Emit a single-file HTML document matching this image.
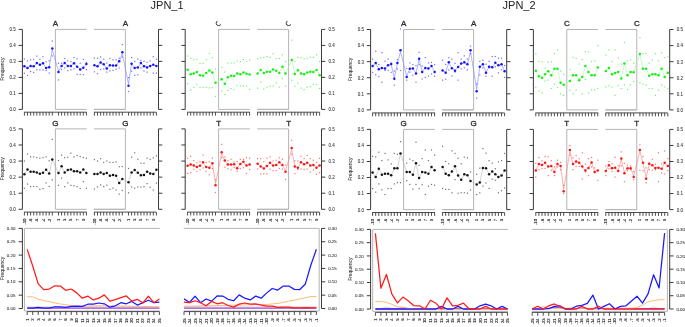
<!DOCTYPE html><html><head><meta charset="utf-8"><style>html,body{margin:0;padding:0;background:#fff;}svg{display:block;will-change:transform;}</style></head><body>
<svg width="685" height="327" viewBox="0 0 685 327" font-family="Liberation Sans, sans-serif">
<defs><clipPath id="clipC"><rect x="0" y="21" width="685" height="20"/></clipPath></defs>
<rect width="685" height="327" fill="#fff"/>
<text x="167.1" y="8.5" text-anchor="middle" font-size="11" fill="#222">JPN_1</text>
<circle cx="184.4" cy="10.2" r="0.45" fill="#777"/>
<text x="519.1" y="9.1" text-anchor="middle" font-size="11" fill="#222">JPN_2</text>
<path d="M55.4 29.4 V109.4 H86.7 M94 29.4 H125.4 V109.4 H94 M55.4 29.4 H86.7 M94 109.4 H125.4" fill="none" stroke="#b4b4b4" stroke-width="1"/>
<path d="M22.4 29.4 V109.4 M18.6 109.4 H22.4 M18.6 93.4 H22.4 M18.6 77.4 H22.4 M18.6 61.4 H22.4 M18.6 45.4 H22.4 M18.6 29.4 H22.4" fill="none" stroke="#3a3a3a" stroke-width="1"/>
<path d="M158.5 29.4 V109.4 M158.5 109.4 H162.3 M158.5 93.4 H162.3 M158.5 77.4 H162.3 M158.5 61.4 H162.3 M158.5 45.4 H162.3 M158.5 29.4 H162.3" fill="none" stroke="#3a3a3a" stroke-width="1"/>
<text x="15.8" y="111.3" text-anchor="end" font-size="4.5" fill="#333" stroke="#333" stroke-width="0.06">0.0</text>
<text x="15.8" y="95.3" text-anchor="end" font-size="4.5" fill="#333" stroke="#333" stroke-width="0.06">0.1</text>
<text x="15.8" y="79.3" text-anchor="end" font-size="4.5" fill="#333" stroke="#333" stroke-width="0.06">0.2</text>
<text x="15.8" y="63.3" text-anchor="end" font-size="4.5" fill="#333" stroke="#333" stroke-width="0.06">0.3</text>
<text x="15.8" y="47.3" text-anchor="end" font-size="4.5" fill="#333" stroke="#333" stroke-width="0.06">0.4</text>
<text x="15.8" y="31.3" text-anchor="end" font-size="4.5" fill="#333" stroke="#333" stroke-width="0.06">0.5</text>
<text transform="translate(4.1 69.1) rotate(-90)" text-anchor="middle" font-size="4.9" fill="#2a2a2a" stroke="#2a2a2a" stroke-width="0.06">Frequency</text>
<path d="M24.1 112.2 H86.8 M24.4 112.2 V115.6 M27.5 112.2 V115.6 M30.6 112.2 V115.6 M33.7 112.2 V115.6 M36.8 112.2 V115.6 M39.9 112.2 V115.6 M43 112.2 V115.6 M46.1 112.2 V115.6 M49.2 112.2 V115.6 M52.3 112.2 V115.6 M58.5 112.2 V115.6 M61.6 112.2 V115.6 M64.7 112.2 V115.6 M67.8 112.2 V115.6 M70.9 112.2 V115.6 M74 112.2 V115.6 M77.1 112.2 V115.6 M80.2 112.2 V115.6 M83.3 112.2 V115.6 M86.4 112.2 V115.6" fill="none" stroke="#3a3a3a" stroke-width="0.9"/>
<path d="M94 112.2 H156.2 M94.4 112.2 V115.6 M97.5 112.2 V115.6 M100.6 112.2 V115.6 M103.7 112.2 V115.6 M106.8 112.2 V115.6 M109.9 112.2 V115.6 M113 112.2 V115.6 M116.1 112.2 V115.6 M119.2 112.2 V115.6 M122.3 112.2 V115.6 M128.5 112.2 V115.6 M131.6 112.2 V115.6 M134.7 112.2 V115.6 M137.8 112.2 V115.6 M140.9 112.2 V115.6 M144 112.2 V115.6 M147.1 112.2 V115.6 M150.2 112.2 V115.6 M153.3 112.2 V115.6 M156.4 112.2 V115.6" fill="none" stroke="#3a3a3a" stroke-width="0.9"/>
<text x="55.4" y="26" text-anchor="middle" font-size="8" fill="#2a2a2a" stroke="#2a2a2a" stroke-width="0.3">A</text>
<text x="125.4" y="26" text-anchor="middle" font-size="8" fill="#2a2a2a" stroke="#2a2a2a" stroke-width="0.3">A</text>
<path d="M24.4 66.27 L27.5 67.74 L30.6 65.83 L33.7 66.27 L36.8 63.18 L39.9 64.8 L43 63.33 L46.1 67.74 L49.2 67.01 L52.3 49.79 L58.5 71.42 L61.6 65.98 L64.7 63.18 L67.8 65.98 L70.9 65.98 L74 63.47 L77.1 66.57 L80.2 69.07 L83.3 67.45 L86.4 64.06" fill="none" stroke="#8080ff" stroke-width="0.6"/>
<rect x="23.8" y="58.4" width="1.2" height="1.2" fill="#6e6eff"/>
<rect x="23.8" y="72.64" width="1.2" height="1.2" fill="#6e6eff"/>
<rect x="26.9" y="60.32" width="1.2" height="1.2" fill="#6e6eff"/>
<rect x="26.9" y="74.88" width="1.2" height="1.2" fill="#6e6eff"/>
<rect x="30" y="59.2" width="1.2" height="1.2" fill="#6e6eff"/>
<rect x="30" y="70.88" width="1.2" height="1.2" fill="#6e6eff"/>
<rect x="33.1" y="58.88" width="1.2" height="1.2" fill="#6e6eff"/>
<rect x="33.1" y="71.84" width="1.2" height="1.2" fill="#6e6eff"/>
<rect x="36.2" y="55.52" width="1.2" height="1.2" fill="#6e6eff"/>
<rect x="36.2" y="69.28" width="1.2" height="1.2" fill="#6e6eff"/>
<rect x="39.3" y="58.56" width="1.2" height="1.2" fill="#6e6eff"/>
<rect x="39.3" y="69.28" width="1.2" height="1.2" fill="#6e6eff"/>
<rect x="42.4" y="56.16" width="1.2" height="1.2" fill="#6e6eff"/>
<rect x="42.4" y="69.28" width="1.2" height="1.2" fill="#6e6eff"/>
<rect x="45.5" y="61.12" width="1.2" height="1.2" fill="#6e6eff"/>
<rect x="45.5" y="69.92" width="1.2" height="1.2" fill="#6e6eff"/>
<rect x="48.6" y="60.11" width="1.2" height="1.2" fill="#6e6eff"/>
<rect x="48.6" y="72.45" width="1.2" height="1.2" fill="#6e6eff"/>
<rect x="51.7" y="40.48" width="1.2" height="1.2" fill="#6e6eff"/>
<rect x="51.7" y="55.35" width="1.2" height="1.2" fill="#6e6eff"/>
<rect x="57.9" y="62.72" width="1.2" height="1.2" fill="#6e6eff"/>
<rect x="57.9" y="79.36" width="1.2" height="1.2" fill="#6e6eff"/>
<rect x="61" y="62.72" width="1.2" height="1.2" fill="#6e6eff"/>
<rect x="61" y="68.96" width="1.2" height="1.2" fill="#6e6eff"/>
<rect x="64.1" y="57.92" width="1.2" height="1.2" fill="#6e6eff"/>
<rect x="64.1" y="67.36" width="1.2" height="1.2" fill="#6e6eff"/>
<rect x="67.2" y="60.16" width="1.2" height="1.2" fill="#6e6eff"/>
<rect x="67.2" y="70.08" width="1.2" height="1.2" fill="#6e6eff"/>
<rect x="70.3" y="60.96" width="1.2" height="1.2" fill="#6e6eff"/>
<rect x="70.3" y="69.28" width="1.2" height="1.2" fill="#6e6eff"/>
<rect x="73.4" y="56.96" width="1.2" height="1.2" fill="#6e6eff"/>
<rect x="73.4" y="68.32" width="1.2" height="1.2" fill="#6e6eff"/>
<rect x="76.5" y="58.24" width="1.2" height="1.2" fill="#6e6eff"/>
<rect x="76.5" y="73.76" width="1.2" height="1.2" fill="#6e6eff"/>
<rect x="79.6" y="62.72" width="1.2" height="1.2" fill="#6e6eff"/>
<rect x="79.6" y="73.76" width="1.2" height="1.2" fill="#6e6eff"/>
<rect x="82.7" y="58.88" width="1.2" height="1.2" fill="#6e6eff"/>
<rect x="82.7" y="74.08" width="1.2" height="1.2" fill="#6e6eff"/>
<rect x="85.8" y="61.92" width="1.2" height="1.2" fill="#6e6eff"/>
<rect x="85.8" y="68.99" width="1.2" height="1.2" fill="#6e6eff"/>
<circle cx="24.4" cy="66.36" r="1.25" fill="#1414ff"/>
<circle cx="27.5" cy="67.96" r="1.25" fill="#1414ff"/>
<circle cx="30.6" cy="65.88" r="1.25" fill="#1414ff"/>
<circle cx="33.7" cy="66.36" r="1.25" fill="#1414ff"/>
<circle cx="36.8" cy="63" r="1.25" fill="#1414ff"/>
<circle cx="39.9" cy="64.76" r="1.25" fill="#1414ff"/>
<circle cx="43" cy="63.16" r="1.25" fill="#1414ff"/>
<circle cx="46.1" cy="67.96" r="1.25" fill="#1414ff"/>
<circle cx="49.2" cy="67.16" r="1.25" fill="#1414ff"/>
<circle cx="52.3" cy="48.44" r="1.25" fill="#1414ff"/>
<circle cx="58.5" cy="71.96" r="1.25" fill="#1414ff"/>
<circle cx="61.6" cy="66.04" r="1.25" fill="#1414ff"/>
<circle cx="64.7" cy="63" r="1.25" fill="#1414ff"/>
<circle cx="67.8" cy="66.04" r="1.25" fill="#1414ff"/>
<circle cx="70.9" cy="66.04" r="1.25" fill="#1414ff"/>
<circle cx="74" cy="63.32" r="1.25" fill="#1414ff"/>
<circle cx="77.1" cy="66.68" r="1.25" fill="#1414ff"/>
<circle cx="80.2" cy="69.4" r="1.25" fill="#1414ff"/>
<circle cx="83.3" cy="67.64" r="1.25" fill="#1414ff"/>
<circle cx="86.4" cy="63.96" r="1.25" fill="#1414ff"/>
<path d="M94.4 65.28 L97.5 66.31 L100.6 62.78 L103.7 64.4 L106.8 68.37 L109.9 65.28 L113 65.58 L116.1 65.58 L119.2 61.6 L122.3 53.36 L128.5 84.12 L131.6 63.81 L134.7 67.93 L137.8 67.34 L140.9 63.22 L144 66.31 L147.1 67.34 L150.2 66.02 L153.3 64.84 L156.4 66.02" fill="none" stroke="#8080ff" stroke-width="0.6"/>
<rect x="93.8" y="57.5" width="1.2" height="1.2" fill="#6e6eff"/>
<rect x="93.8" y="71.22" width="1.2" height="1.2" fill="#6e6eff"/>
<rect x="96.9" y="57.6" width="1.2" height="1.2" fill="#6e6eff"/>
<rect x="96.9" y="73.12" width="1.2" height="1.2" fill="#6e6eff"/>
<rect x="100" y="56.33" width="1.2" height="1.2" fill="#6e6eff"/>
<rect x="100" y="68.96" width="1.2" height="1.2" fill="#6e6eff"/>
<rect x="103.1" y="58.56" width="1.2" height="1.2" fill="#6e6eff"/>
<rect x="103.1" y="68.32" width="1.2" height="1.2" fill="#6e6eff"/>
<rect x="106.2" y="62.48" width="1.2" height="1.2" fill="#6e6eff"/>
<rect x="106.2" y="71.52" width="1.2" height="1.2" fill="#6e6eff"/>
<rect x="109.3" y="57.83" width="1.2" height="1.2" fill="#6e6eff"/>
<rect x="109.3" y="70.27" width="1.2" height="1.2" fill="#6e6eff"/>
<rect x="112.4" y="59.2" width="1.2" height="1.2" fill="#6e6eff"/>
<rect x="112.4" y="69.76" width="1.2" height="1.2" fill="#6e6eff"/>
<rect x="115.5" y="59.27" width="1.2" height="1.2" fill="#6e6eff"/>
<rect x="115.5" y="68.64" width="1.2" height="1.2" fill="#6e6eff"/>
<rect x="118.6" y="57.6" width="1.2" height="1.2" fill="#6e6eff"/>
<rect x="118.6" y="67.42" width="1.2" height="1.2" fill="#6e6eff"/>
<rect x="121.7" y="44" width="1.2" height="1.2" fill="#6e6eff"/>
<rect x="121.7" y="56.48" width="1.2" height="1.2" fill="#6e6eff"/>
<rect x="127.9" y="77.04" width="1.2" height="1.2" fill="#6e6eff"/>
<rect x="127.9" y="90.92" width="1.2" height="1.2" fill="#6e6eff"/>
<rect x="131" y="56.92" width="1.2" height="1.2" fill="#6e6eff"/>
<rect x="131" y="70.47" width="1.2" height="1.2" fill="#6e6eff"/>
<rect x="134.1" y="60.8" width="1.2" height="1.2" fill="#6e6eff"/>
<rect x="134.1" y="74.72" width="1.2" height="1.2" fill="#6e6eff"/>
<rect x="137.2" y="58.41" width="1.2" height="1.2" fill="#6e6eff"/>
<rect x="137.2" y="74.15" width="1.2" height="1.2" fill="#6e6eff"/>
<rect x="140.3" y="59.68" width="1.2" height="1.2" fill="#6e6eff"/>
<rect x="140.3" y="67.2" width="1.2" height="1.2" fill="#6e6eff"/>
<rect x="143.4" y="60.8" width="1.2" height="1.2" fill="#6e6eff"/>
<rect x="143.4" y="70.4" width="1.2" height="1.2" fill="#6e6eff"/>
<rect x="146.5" y="61.76" width="1.2" height="1.2" fill="#6e6eff"/>
<rect x="146.5" y="71.52" width="1.2" height="1.2" fill="#6e6eff"/>
<rect x="149.6" y="60.32" width="1.2" height="1.2" fill="#6e6eff"/>
<rect x="149.6" y="66.08" width="1.2" height="1.2" fill="#6e6eff"/>
<rect x="152.7" y="56" width="1.2" height="1.2" fill="#6e6eff"/>
<rect x="152.7" y="72.48" width="1.2" height="1.2" fill="#6e6eff"/>
<rect x="155.8" y="58.56" width="1.2" height="1.2" fill="#6e6eff"/>
<rect x="155.8" y="72.48" width="1.2" height="1.2" fill="#6e6eff"/>
<circle cx="94.4" cy="65.24" r="1.25" fill="#1414ff"/>
<circle cx="97.5" cy="66.36" r="1.25" fill="#1414ff"/>
<circle cx="100.6" cy="62.52" r="1.25" fill="#1414ff"/>
<circle cx="103.7" cy="64.28" r="1.25" fill="#1414ff"/>
<circle cx="106.8" cy="68.6" r="1.25" fill="#1414ff"/>
<circle cx="109.9" cy="65.24" r="1.25" fill="#1414ff"/>
<circle cx="113" cy="65.56" r="1.25" fill="#1414ff"/>
<circle cx="116.1" cy="65.56" r="1.25" fill="#1414ff"/>
<circle cx="119.2" cy="61.24" r="1.25" fill="#1414ff"/>
<circle cx="122.3" cy="52.28" r="1.25" fill="#1414ff"/>
<circle cx="128.5" cy="85.72" r="1.25" fill="#1414ff"/>
<circle cx="131.6" cy="63.64" r="1.25" fill="#1414ff"/>
<circle cx="134.7" cy="68.12" r="1.25" fill="#1414ff"/>
<circle cx="137.8" cy="67.48" r="1.25" fill="#1414ff"/>
<circle cx="140.9" cy="63" r="1.25" fill="#1414ff"/>
<circle cx="144" cy="66.36" r="1.25" fill="#1414ff"/>
<circle cx="147.1" cy="67.48" r="1.25" fill="#1414ff"/>
<circle cx="150.2" cy="66.04" r="1.25" fill="#1414ff"/>
<circle cx="153.3" cy="64.76" r="1.25" fill="#1414ff"/>
<circle cx="156.4" cy="66.04" r="1.25" fill="#1414ff"/>
<path d="M218.6 29.4 V109.4 H249.9 M257.2 29.4 H288.6 V109.4 H257.2 M218.6 29.4 H249.9 M257.2 109.4 H288.6" fill="none" stroke="#b4b4b4" stroke-width="1"/>
<path d="M185.2 29.4 V109.4 M181.4 109.4 H185.2 M181.4 93.4 H185.2 M181.4 77.4 H185.2 M181.4 61.4 H185.2 M181.4 45.4 H185.2 M181.4 29.4 H185.2" fill="none" stroke="#3a3a3a" stroke-width="1"/>
<path d="M321.5 29.4 V109.4 M321.5 109.4 H325.3 M321.5 93.4 H325.3 M321.5 77.4 H325.3 M321.5 61.4 H325.3 M321.5 45.4 H325.3 M321.5 29.4 H325.3" fill="none" stroke="#3a3a3a" stroke-width="1"/>
<text x="328.5" y="111.3" font-size="4.5" fill="#333" stroke="#333" stroke-width="0.06">0.0</text>
<text x="328.5" y="95.3" font-size="4.5" fill="#333" stroke="#333" stroke-width="0.06">0.1</text>
<text x="328.5" y="79.3" font-size="4.5" fill="#333" stroke="#333" stroke-width="0.06">0.2</text>
<text x="328.5" y="63.3" font-size="4.5" fill="#333" stroke="#333" stroke-width="0.06">0.3</text>
<text x="328.5" y="47.3" font-size="4.5" fill="#333" stroke="#333" stroke-width="0.06">0.4</text>
<text x="328.5" y="31.3" font-size="4.5" fill="#333" stroke="#333" stroke-width="0.06">0.5</text>
<path d="M187.3 112.2 H250 M187.6 112.2 V115.6 M190.7 112.2 V115.6 M193.8 112.2 V115.6 M196.9 112.2 V115.6 M200 112.2 V115.6 M203.1 112.2 V115.6 M206.2 112.2 V115.6 M209.3 112.2 V115.6 M212.4 112.2 V115.6 M215.5 112.2 V115.6 M221.7 112.2 V115.6 M224.8 112.2 V115.6 M227.9 112.2 V115.6 M231 112.2 V115.6 M234.1 112.2 V115.6 M237.2 112.2 V115.6 M240.3 112.2 V115.6 M243.4 112.2 V115.6 M246.5 112.2 V115.6 M249.6 112.2 V115.6" fill="none" stroke="#3a3a3a" stroke-width="0.9"/>
<path d="M257.2 112.2 H319.4 M257.6 112.2 V115.6 M260.7 112.2 V115.6 M263.8 112.2 V115.6 M266.9 112.2 V115.6 M270 112.2 V115.6 M273.1 112.2 V115.6 M276.2 112.2 V115.6 M279.3 112.2 V115.6 M282.4 112.2 V115.6 M285.5 112.2 V115.6 M291.7 112.2 V115.6 M294.8 112.2 V115.6 M297.9 112.2 V115.6 M301 112.2 V115.6 M304.1 112.2 V115.6 M307.2 112.2 V115.6 M310.3 112.2 V115.6 M313.4 112.2 V115.6 M316.5 112.2 V115.6 M319.6 112.2 V115.6" fill="none" stroke="#3a3a3a" stroke-width="0.9"/>
<path d="M217.5 20.9 Q216.1 22 216.2 23.3 Q216.4 25.6 218.6 25.6 Q220.2 25.6 221 24.4" fill="none" stroke="#3a3a3a" stroke-width="1.0"/>
<path d="M287.5 20.9 Q286.1 22 286.2 23.3 Q286.4 25.6 288.6 25.6 Q290.2 25.6 291 24.4" fill="none" stroke="#3a3a3a" stroke-width="1.0"/>
<path d="M187.6 69.72 L190.7 74.36 L193.8 73.56 L196.9 71.96 L200 75.16 L203.1 75.64 L206.2 72.92 L209.3 70.52 L212.4 72.6 L215.5 82.68 L221.7 79.32 L224.8 83.64 L227.9 77.24 L231 75.64 L234.1 76.12 L237.2 73.4 L240.3 74.36 L243.4 72.6 L246.5 73.72 L249.6 74.52" fill="none" stroke="#a8f4a8" stroke-width="0.6"/>
<rect x="187" y="55.36" width="1.2" height="1.2" fill="#70f070"/>
<rect x="187" y="83.04" width="1.2" height="1.2" fill="#70f070"/>
<rect x="190.1" y="57.76" width="1.2" height="1.2" fill="#70f070"/>
<rect x="190.1" y="89.28" width="1.2" height="1.2" fill="#70f070"/>
<rect x="193.2" y="59.2" width="1.2" height="1.2" fill="#70f070"/>
<rect x="193.2" y="86.72" width="1.2" height="1.2" fill="#70f070"/>
<rect x="196.3" y="58.56" width="1.2" height="1.2" fill="#70f070"/>
<rect x="196.3" y="83.84" width="1.2" height="1.2" fill="#70f070"/>
<rect x="199.4" y="62.88" width="1.2" height="1.2" fill="#70f070"/>
<rect x="199.4" y="86.56" width="1.2" height="1.2" fill="#70f070"/>
<rect x="202.5" y="62.88" width="1.2" height="1.2" fill="#70f070"/>
<rect x="202.5" y="86.72" width="1.2" height="1.2" fill="#70f070"/>
<rect x="205.6" y="59.2" width="1.2" height="1.2" fill="#70f070"/>
<rect x="205.6" y="86.72" width="1.2" height="1.2" fill="#70f070"/>
<rect x="208.7" y="52.8" width="1.2" height="1.2" fill="#70f070"/>
<rect x="208.7" y="87.36" width="1.2" height="1.2" fill="#70f070"/>
<rect x="211.8" y="57.12" width="1.2" height="1.2" fill="#70f070"/>
<rect x="211.8" y="87.04" width="1.2" height="1.2" fill="#70f070"/>
<rect x="214.9" y="68.48" width="1.2" height="1.2" fill="#70f070"/>
<rect x="214.9" y="95.84" width="1.2" height="1.2" fill="#70f070"/>
<rect x="221.1" y="66.88" width="1.2" height="1.2" fill="#70f070"/>
<rect x="221.1" y="90.4" width="1.2" height="1.2" fill="#70f070"/>
<rect x="224.2" y="71.36" width="1.2" height="1.2" fill="#70f070"/>
<rect x="224.2" y="93.92" width="1.2" height="1.2" fill="#70f070"/>
<rect x="227.3" y="62.4" width="1.2" height="1.2" fill="#70f070"/>
<rect x="227.3" y="89.76" width="1.2" height="1.2" fill="#70f070"/>
<rect x="230.4" y="62.4" width="1.2" height="1.2" fill="#70f070"/>
<rect x="230.4" y="88" width="1.2" height="1.2" fill="#70f070"/>
<rect x="233.5" y="62.4" width="1.2" height="1.2" fill="#70f070"/>
<rect x="233.5" y="88.96" width="1.2" height="1.2" fill="#70f070"/>
<rect x="236.6" y="60.48" width="1.2" height="1.2" fill="#70f070"/>
<rect x="236.6" y="85.12" width="1.2" height="1.2" fill="#70f070"/>
<rect x="239.7" y="61.12" width="1.2" height="1.2" fill="#70f070"/>
<rect x="239.7" y="85.44" width="1.2" height="1.2" fill="#70f070"/>
<rect x="242.8" y="59.04" width="1.2" height="1.2" fill="#70f070"/>
<rect x="242.8" y="85.12" width="1.2" height="1.2" fill="#70f070"/>
<rect x="245.9" y="60.8" width="1.2" height="1.2" fill="#70f070"/>
<rect x="245.9" y="85.6" width="1.2" height="1.2" fill="#70f070"/>
<rect x="249" y="59.2" width="1.2" height="1.2" fill="#70f070"/>
<rect x="249" y="88.8" width="1.2" height="1.2" fill="#70f070"/>
<circle cx="187.6" cy="69.72" r="1.25" fill="#14f014"/>
<circle cx="190.7" cy="74.36" r="1.25" fill="#14f014"/>
<circle cx="193.8" cy="73.56" r="1.25" fill="#14f014"/>
<circle cx="196.9" cy="71.96" r="1.25" fill="#14f014"/>
<circle cx="200" cy="75.16" r="1.25" fill="#14f014"/>
<circle cx="203.1" cy="75.64" r="1.25" fill="#14f014"/>
<circle cx="206.2" cy="72.92" r="1.25" fill="#14f014"/>
<circle cx="209.3" cy="70.52" r="1.25" fill="#14f014"/>
<circle cx="212.4" cy="72.6" r="1.25" fill="#14f014"/>
<circle cx="215.5" cy="82.68" r="1.25" fill="#14f014"/>
<circle cx="221.7" cy="79.32" r="1.25" fill="#14f014"/>
<circle cx="224.8" cy="83.64" r="1.25" fill="#14f014"/>
<circle cx="227.9" cy="77.24" r="1.25" fill="#14f014"/>
<circle cx="231" cy="75.64" r="1.25" fill="#14f014"/>
<circle cx="234.1" cy="76.12" r="1.25" fill="#14f014"/>
<circle cx="237.2" cy="73.4" r="1.25" fill="#14f014"/>
<circle cx="240.3" cy="74.36" r="1.25" fill="#14f014"/>
<circle cx="243.4" cy="72.6" r="1.25" fill="#14f014"/>
<circle cx="246.5" cy="73.72" r="1.25" fill="#14f014"/>
<circle cx="249.6" cy="74.52" r="1.25" fill="#14f014"/>
<path d="M257.6 73.56 L260.7 69.88 L263.8 72.92 L266.9 71.64 L270 71.64 L273.1 69.56 L276.2 70.68 L279.3 72.92 L282.4 66.68 L285.5 73.56 L291.7 60.12 L294.8 73.88 L297.9 70.2 L301 73.56 L304.1 74.36 L307.2 72.6 L310.3 71.64 L313.4 71.96 L316.5 69.88 L319.6 75.32" fill="none" stroke="#a8f4a8" stroke-width="0.6"/>
<rect x="257" y="58.24" width="1.2" height="1.2" fill="#70f070"/>
<rect x="257" y="87.52" width="1.2" height="1.2" fill="#70f070"/>
<rect x="260.1" y="57.28" width="1.2" height="1.2" fill="#70f070"/>
<rect x="260.1" y="81.6" width="1.2" height="1.2" fill="#70f070"/>
<rect x="263.2" y="56.8" width="1.2" height="1.2" fill="#70f070"/>
<rect x="263.2" y="88.48" width="1.2" height="1.2" fill="#70f070"/>
<rect x="266.3" y="56" width="1.2" height="1.2" fill="#70f070"/>
<rect x="266.3" y="86.56" width="1.2" height="1.2" fill="#70f070"/>
<rect x="269.4" y="56.8" width="1.2" height="1.2" fill="#70f070"/>
<rect x="269.4" y="85.76" width="1.2" height="1.2" fill="#70f070"/>
<rect x="272.5" y="53.12" width="1.2" height="1.2" fill="#70f070"/>
<rect x="272.5" y="85.44" width="1.2" height="1.2" fill="#70f070"/>
<rect x="275.6" y="57.92" width="1.2" height="1.2" fill="#70f070"/>
<rect x="275.6" y="82.4" width="1.2" height="1.2" fill="#70f070"/>
<rect x="278.7" y="57.92" width="1.2" height="1.2" fill="#70f070"/>
<rect x="278.7" y="86.56" width="1.2" height="1.2" fill="#70f070"/>
<rect x="281.8" y="54.24" width="1.2" height="1.2" fill="#70f070"/>
<rect x="281.8" y="77.92" width="1.2" height="1.2" fill="#70f070"/>
<rect x="284.9" y="60.96" width="1.2" height="1.2" fill="#70f070"/>
<rect x="284.9" y="85.44" width="1.2" height="1.2" fill="#70f070"/>
<rect x="291.1" y="39.52" width="1.2" height="1.2" fill="#70f070"/>
<rect x="291.1" y="79.68" width="1.2" height="1.2" fill="#70f070"/>
<rect x="294.2" y="60.96" width="1.2" height="1.2" fill="#70f070"/>
<rect x="294.2" y="85.76" width="1.2" height="1.2" fill="#70f070"/>
<rect x="297.3" y="56.8" width="1.2" height="1.2" fill="#70f070"/>
<rect x="297.3" y="82.4" width="1.2" height="1.2" fill="#70f070"/>
<rect x="300.4" y="57.28" width="1.2" height="1.2" fill="#70f070"/>
<rect x="300.4" y="87.52" width="1.2" height="1.2" fill="#70f070"/>
<rect x="303.5" y="58.24" width="1.2" height="1.2" fill="#70f070"/>
<rect x="303.5" y="88.96" width="1.2" height="1.2" fill="#70f070"/>
<rect x="306.6" y="57.92" width="1.2" height="1.2" fill="#70f070"/>
<rect x="306.6" y="86.56" width="1.2" height="1.2" fill="#70f070"/>
<rect x="309.7" y="56.8" width="1.2" height="1.2" fill="#70f070"/>
<rect x="309.7" y="86.08" width="1.2" height="1.2" fill="#70f070"/>
<rect x="312.8" y="56.8" width="1.2" height="1.2" fill="#70f070"/>
<rect x="312.8" y="83.84" width="1.2" height="1.2" fill="#70f070"/>
<rect x="315.9" y="54.24" width="1.2" height="1.2" fill="#70f070"/>
<rect x="315.9" y="84" width="1.2" height="1.2" fill="#70f070"/>
<rect x="319" y="60.96" width="1.2" height="1.2" fill="#70f070"/>
<rect x="319" y="87.84" width="1.2" height="1.2" fill="#70f070"/>
<circle cx="257.6" cy="73.56" r="1.25" fill="#14f014"/>
<circle cx="260.7" cy="69.88" r="1.25" fill="#14f014"/>
<circle cx="263.8" cy="72.92" r="1.25" fill="#14f014"/>
<circle cx="266.9" cy="71.64" r="1.25" fill="#14f014"/>
<circle cx="270" cy="71.64" r="1.25" fill="#14f014"/>
<circle cx="273.1" cy="69.56" r="1.25" fill="#14f014"/>
<circle cx="276.2" cy="70.68" r="1.25" fill="#14f014"/>
<circle cx="279.3" cy="72.92" r="1.25" fill="#14f014"/>
<circle cx="282.4" cy="66.68" r="1.25" fill="#14f014"/>
<circle cx="285.5" cy="73.56" r="1.25" fill="#14f014"/>
<circle cx="291.7" cy="60.12" r="1.25" fill="#14f014"/>
<circle cx="294.8" cy="73.88" r="1.25" fill="#14f014"/>
<circle cx="297.9" cy="70.2" r="1.25" fill="#14f014"/>
<circle cx="301" cy="73.56" r="1.25" fill="#14f014"/>
<circle cx="304.1" cy="74.36" r="1.25" fill="#14f014"/>
<circle cx="307.2" cy="72.6" r="1.25" fill="#14f014"/>
<circle cx="310.3" cy="71.64" r="1.25" fill="#14f014"/>
<circle cx="313.4" cy="71.96" r="1.25" fill="#14f014"/>
<circle cx="316.5" cy="69.88" r="1.25" fill="#14f014"/>
<circle cx="319.6" cy="75.32" r="1.25" fill="#14f014"/>
<path d="M55.4 128.9 V209.3 H86.7 M94 128.9 H125.4 V209.3 H94 M55.4 128.9 H86.7 M94 209.3 H125.4" fill="none" stroke="#b4b4b4" stroke-width="1"/>
<path d="M22.4 128.9 V209.3 M18.6 209.3 H22.4 M18.6 193.22 H22.4 M18.6 177.14 H22.4 M18.6 161.06 H22.4 M18.6 144.98 H22.4 M18.6 128.9 H22.4" fill="none" stroke="#3a3a3a" stroke-width="1"/>
<path d="M158.5 128.9 V209.3 M158.5 209.3 H162.3 M158.5 193.22 H162.3 M158.5 177.14 H162.3 M158.5 161.06 H162.3 M158.5 144.98 H162.3 M158.5 128.9 H162.3" fill="none" stroke="#3a3a3a" stroke-width="1"/>
<text x="15.8" y="211.2" text-anchor="end" font-size="4.5" fill="#333" stroke="#333" stroke-width="0.06">0.0</text>
<text x="15.8" y="195.12" text-anchor="end" font-size="4.5" fill="#333" stroke="#333" stroke-width="0.06">0.1</text>
<text x="15.8" y="179.04" text-anchor="end" font-size="4.5" fill="#333" stroke="#333" stroke-width="0.06">0.2</text>
<text x="15.8" y="162.96" text-anchor="end" font-size="4.5" fill="#333" stroke="#333" stroke-width="0.06">0.3</text>
<text x="15.8" y="146.88" text-anchor="end" font-size="4.5" fill="#333" stroke="#333" stroke-width="0.06">0.4</text>
<text x="15.8" y="130.8" text-anchor="end" font-size="4.5" fill="#333" stroke="#333" stroke-width="0.06">0.5</text>
<text transform="translate(4.1 168.8) rotate(-90)" text-anchor="middle" font-size="4.9" fill="#2a2a2a" stroke="#2a2a2a" stroke-width="0.06">Frequency</text>
<path d="M24.1 212.1 H86.8 M24.4 212.1 V215.5 M27.5 212.1 V215.5 M30.6 212.1 V215.5 M33.7 212.1 V215.5 M36.8 212.1 V215.5 M39.9 212.1 V215.5 M43 212.1 V215.5 M46.1 212.1 V215.5 M49.2 212.1 V215.5 M52.3 212.1 V215.5 M58.5 212.1 V215.5 M61.6 212.1 V215.5 M64.7 212.1 V215.5 M67.8 212.1 V215.5 M70.9 212.1 V215.5 M74 212.1 V215.5 M77.1 212.1 V215.5 M80.2 212.1 V215.5 M83.3 212.1 V215.5 M86.4 212.1 V215.5" fill="none" stroke="#3a3a3a" stroke-width="0.9"/>
<text transform="translate(25.9 218.6) rotate(-90)" text-anchor="end" font-size="4.2" fill="#222" stroke="#222" stroke-width="0.12">-10</text>
<text transform="translate(32.1 218.6) rotate(-90)" text-anchor="end" font-size="4.2" fill="#222" stroke="#222" stroke-width="0.12">-8</text>
<text transform="translate(38.3 218.6) rotate(-90)" text-anchor="end" font-size="4.2" fill="#222" stroke="#222" stroke-width="0.12">-6</text>
<text transform="translate(44.5 218.6) rotate(-90)" text-anchor="end" font-size="4.2" fill="#222" stroke="#222" stroke-width="0.12">-4</text>
<text transform="translate(50.7 218.6) rotate(-90)" text-anchor="end" font-size="4.2" fill="#222" stroke="#222" stroke-width="0.12">-2</text>
<text transform="translate(60 218.6) rotate(-90)" text-anchor="end" font-size="4.2" fill="#222" stroke="#222" stroke-width="0.12">1</text>
<text transform="translate(66.2 218.6) rotate(-90)" text-anchor="end" font-size="4.2" fill="#222" stroke="#222" stroke-width="0.12">3</text>
<text transform="translate(72.4 218.6) rotate(-90)" text-anchor="end" font-size="4.2" fill="#222" stroke="#222" stroke-width="0.12">5</text>
<text transform="translate(78.6 218.6) rotate(-90)" text-anchor="end" font-size="4.2" fill="#222" stroke="#222" stroke-width="0.12">7</text>
<text transform="translate(84.8 218.6) rotate(-90)" text-anchor="end" font-size="4.2" fill="#222" stroke="#222" stroke-width="0.12">9</text>
<path d="M94 212.1 H156.2 M94.4 212.1 V215.5 M97.5 212.1 V215.5 M100.6 212.1 V215.5 M103.7 212.1 V215.5 M106.8 212.1 V215.5 M109.9 212.1 V215.5 M113 212.1 V215.5 M116.1 212.1 V215.5 M119.2 212.1 V215.5 M122.3 212.1 V215.5 M128.5 212.1 V215.5 M131.6 212.1 V215.5 M134.7 212.1 V215.5 M137.8 212.1 V215.5 M140.9 212.1 V215.5 M144 212.1 V215.5 M147.1 212.1 V215.5 M150.2 212.1 V215.5 M153.3 212.1 V215.5 M156.4 212.1 V215.5" fill="none" stroke="#3a3a3a" stroke-width="0.9"/>
<text transform="translate(95.9 218.6) rotate(-90)" text-anchor="end" font-size="4.2" fill="#222" stroke="#222" stroke-width="0.12">-10</text>
<text transform="translate(102.1 218.6) rotate(-90)" text-anchor="end" font-size="4.2" fill="#222" stroke="#222" stroke-width="0.12">-8</text>
<text transform="translate(108.3 218.6) rotate(-90)" text-anchor="end" font-size="4.2" fill="#222" stroke="#222" stroke-width="0.12">-6</text>
<text transform="translate(114.5 218.6) rotate(-90)" text-anchor="end" font-size="4.2" fill="#222" stroke="#222" stroke-width="0.12">-4</text>
<text transform="translate(120.7 218.6) rotate(-90)" text-anchor="end" font-size="4.2" fill="#222" stroke="#222" stroke-width="0.12">-2</text>
<text transform="translate(130 218.6) rotate(-90)" text-anchor="end" font-size="4.2" fill="#222" stroke="#222" stroke-width="0.12">1</text>
<text transform="translate(136.2 218.6) rotate(-90)" text-anchor="end" font-size="4.2" fill="#222" stroke="#222" stroke-width="0.12">3</text>
<text transform="translate(142.4 218.6) rotate(-90)" text-anchor="end" font-size="4.2" fill="#222" stroke="#222" stroke-width="0.12">5</text>
<text transform="translate(148.6 218.6) rotate(-90)" text-anchor="end" font-size="4.2" fill="#222" stroke="#222" stroke-width="0.12">7</text>
<text transform="translate(154.8 218.6) rotate(-90)" text-anchor="end" font-size="4.2" fill="#222" stroke="#222" stroke-width="0.12">9</text>
<text x="55.4" y="125.5" text-anchor="middle" font-size="8" fill="#2a2a2a" stroke="#2a2a2a" stroke-width="0.3">G</text>
<text x="125.4" y="125.5" text-anchor="middle" font-size="8" fill="#2a2a2a" stroke="#2a2a2a" stroke-width="0.3">G</text>
<path d="M24.4 174.25 L27.5 169.42 L30.6 171.67 L33.7 171.67 L36.8 172.48 L39.9 173.76 L43 172.8 L46.1 169.74 L49.2 173.44 L52.3 159.61 L58.5 173.12 L61.6 166.37 L64.7 172.48 L67.8 170.06 L70.9 169.42 L74 171.19 L77.1 171.19 L80.2 172.48 L83.3 169.42 L86.4 173.12" fill="none" stroke="#a0a0a0" stroke-width="0.45"/>
<rect x="23.8" y="160.46" width="1.2" height="1.2" fill="#707070"/>
<rect x="23.8" y="187.64" width="1.2" height="1.2" fill="#707070"/>
<rect x="26.9" y="153.38" width="1.2" height="1.2" fill="#707070"/>
<rect x="26.9" y="183.45" width="1.2" height="1.2" fill="#707070"/>
<rect x="30" y="156.28" width="1.2" height="1.2" fill="#707070"/>
<rect x="30" y="186.03" width="1.2" height="1.2" fill="#707070"/>
<rect x="33.1" y="156.28" width="1.2" height="1.2" fill="#707070"/>
<rect x="33.1" y="185.87" width="1.2" height="1.2" fill="#707070"/>
<rect x="36.2" y="157.08" width="1.2" height="1.2" fill="#707070"/>
<rect x="36.2" y="186.03" width="1.2" height="1.2" fill="#707070"/>
<rect x="39.3" y="157.57" width="1.2" height="1.2" fill="#707070"/>
<rect x="39.3" y="188.76" width="1.2" height="1.2" fill="#707070"/>
<rect x="42.4" y="157.08" width="1.2" height="1.2" fill="#707070"/>
<rect x="42.4" y="187.96" width="1.2" height="1.2" fill="#707070"/>
<rect x="45.5" y="156.28" width="1.2" height="1.2" fill="#707070"/>
<rect x="45.5" y="182.33" width="1.2" height="1.2" fill="#707070"/>
<rect x="48.6" y="160.15" width="1.2" height="1.2" fill="#707070"/>
<rect x="48.6" y="185.87" width="1.2" height="1.2" fill="#707070"/>
<rect x="51.7" y="138.75" width="1.2" height="1.2" fill="#707070"/>
<rect x="51.7" y="179.27" width="1.2" height="1.2" fill="#707070"/>
<rect x="57.9" y="159.98" width="1.2" height="1.2" fill="#707070"/>
<rect x="57.9" y="184.74" width="1.2" height="1.2" fill="#707070"/>
<rect x="61" y="154.51" width="1.2" height="1.2" fill="#707070"/>
<rect x="61" y="177.5" width="1.2" height="1.2" fill="#707070"/>
<rect x="64.1" y="157.08" width="1.2" height="1.2" fill="#707070"/>
<rect x="64.1" y="186.03" width="1.2" height="1.2" fill="#707070"/>
<rect x="67.2" y="156.6" width="1.2" height="1.2" fill="#707070"/>
<rect x="67.2" y="182.33" width="1.2" height="1.2" fill="#707070"/>
<rect x="70.3" y="152.58" width="1.2" height="1.2" fill="#707070"/>
<rect x="70.3" y="184.74" width="1.2" height="1.2" fill="#707070"/>
<rect x="73.4" y="156.28" width="1.2" height="1.2" fill="#707070"/>
<rect x="73.4" y="185.22" width="1.2" height="1.2" fill="#707070"/>
<rect x="76.5" y="154.99" width="1.2" height="1.2" fill="#707070"/>
<rect x="76.5" y="186.03" width="1.2" height="1.2" fill="#707070"/>
<rect x="79.6" y="155.96" width="1.2" height="1.2" fill="#707070"/>
<rect x="79.6" y="187.96" width="1.2" height="1.2" fill="#707070"/>
<rect x="82.7" y="156.92" width="1.2" height="1.2" fill="#707070"/>
<rect x="82.7" y="181.04" width="1.2" height="1.2" fill="#707070"/>
<rect x="85.8" y="157.57" width="1.2" height="1.2" fill="#707070"/>
<rect x="85.8" y="187.64" width="1.2" height="1.2" fill="#707070"/>
<circle cx="24.4" cy="174.25" r="1.25" fill="#141414"/>
<circle cx="27.5" cy="169.42" r="1.25" fill="#141414"/>
<circle cx="30.6" cy="171.67" r="1.25" fill="#141414"/>
<circle cx="33.7" cy="171.67" r="1.25" fill="#141414"/>
<circle cx="36.8" cy="172.48" r="1.25" fill="#141414"/>
<circle cx="39.9" cy="173.76" r="1.25" fill="#141414"/>
<circle cx="43" cy="172.8" r="1.25" fill="#141414"/>
<circle cx="46.1" cy="169.74" r="1.25" fill="#141414"/>
<circle cx="49.2" cy="173.44" r="1.25" fill="#141414"/>
<circle cx="52.3" cy="159.61" r="1.25" fill="#141414"/>
<circle cx="58.5" cy="173.12" r="1.25" fill="#141414"/>
<circle cx="61.6" cy="166.37" r="1.25" fill="#141414"/>
<circle cx="64.7" cy="172.48" r="1.25" fill="#141414"/>
<circle cx="67.8" cy="170.06" r="1.25" fill="#141414"/>
<circle cx="70.9" cy="169.42" r="1.25" fill="#141414"/>
<circle cx="74" cy="171.19" r="1.25" fill="#141414"/>
<circle cx="77.1" cy="171.19" r="1.25" fill="#141414"/>
<circle cx="80.2" cy="172.48" r="1.25" fill="#141414"/>
<circle cx="83.3" cy="169.42" r="1.25" fill="#141414"/>
<circle cx="86.4" cy="173.12" r="1.25" fill="#141414"/>
<path d="M94.4 173.92 L97.5 173.92 L100.6 172.48 L103.7 173.92 L106.8 172.96 L109.9 175.69 L113 174.89 L116.1 175.85 L119.2 183.09 L122.3 178.91 L128.5 182.29 L131.6 172.48 L134.7 170.06 L137.8 172.8 L140.9 175.21 L144 174.89 L147.1 171.67 L150.2 173.44 L153.3 173.92 L156.4 169.74" fill="none" stroke="#a0a0a0" stroke-width="0.45"/>
<rect x="93.8" y="159.01" width="1.2" height="1.2" fill="#707070"/>
<rect x="93.8" y="188.44" width="1.2" height="1.2" fill="#707070"/>
<rect x="96.9" y="160.46" width="1.2" height="1.2" fill="#707070"/>
<rect x="96.9" y="186.35" width="1.2" height="1.2" fill="#707070"/>
<rect x="100" y="158.05" width="1.2" height="1.2" fill="#707070"/>
<rect x="100" y="184.26" width="1.2" height="1.2" fill="#707070"/>
<rect x="103.1" y="161.75" width="1.2" height="1.2" fill="#707070"/>
<rect x="103.1" y="185.87" width="1.2" height="1.2" fill="#707070"/>
<rect x="106.2" y="160.46" width="1.2" height="1.2" fill="#707070"/>
<rect x="106.2" y="184.58" width="1.2" height="1.2" fill="#707070"/>
<rect x="109.3" y="161.75" width="1.2" height="1.2" fill="#707070"/>
<rect x="109.3" y="188.76" width="1.2" height="1.2" fill="#707070"/>
<rect x="112.4" y="161.75" width="1.2" height="1.2" fill="#707070"/>
<rect x="112.4" y="187.64" width="1.2" height="1.2" fill="#707070"/>
<rect x="115.5" y="161.26" width="1.2" height="1.2" fill="#707070"/>
<rect x="115.5" y="189.4" width="1.2" height="1.2" fill="#707070"/>
<rect x="118.6" y="166.23" width="1.2" height="1.2" fill="#707070"/>
<rect x="118.6" y="193.58" width="1.2" height="1.2" fill="#707070"/>
<rect x="121.7" y="165.93" width="1.2" height="1.2" fill="#707070"/>
<rect x="121.7" y="189.89" width="1.2" height="1.2" fill="#707070"/>
<rect x="127.9" y="167.86" width="1.2" height="1.2" fill="#707070"/>
<rect x="127.9" y="192.22" width="1.2" height="1.2" fill="#707070"/>
<rect x="131" y="156.6" width="1.2" height="1.2" fill="#707070"/>
<rect x="131" y="186.51" width="1.2" height="1.2" fill="#707070"/>
<rect x="134.1" y="152.26" width="1.2" height="1.2" fill="#707070"/>
<rect x="134.1" y="187.64" width="1.2" height="1.2" fill="#707070"/>
<rect x="137.2" y="158.69" width="1.2" height="1.2" fill="#707070"/>
<rect x="137.2" y="186.35" width="1.2" height="1.2" fill="#707070"/>
<rect x="140.3" y="162.71" width="1.2" height="1.2" fill="#707070"/>
<rect x="140.3" y="186.51" width="1.2" height="1.2" fill="#707070"/>
<rect x="143.4" y="162.71" width="1.2" height="1.2" fill="#707070"/>
<rect x="143.4" y="186.03" width="1.2" height="1.2" fill="#707070"/>
<rect x="146.5" y="157.57" width="1.2" height="1.2" fill="#707070"/>
<rect x="146.5" y="182.97" width="1.2" height="1.2" fill="#707070"/>
<rect x="149.6" y="158.69" width="1.2" height="1.2" fill="#707070"/>
<rect x="149.6" y="186.67" width="1.2" height="1.2" fill="#707070"/>
<rect x="152.7" y="157.24" width="1.2" height="1.2" fill="#707070"/>
<rect x="152.7" y="189.4" width="1.2" height="1.2" fill="#707070"/>
<rect x="155.8" y="155.31" width="1.2" height="1.2" fill="#707070"/>
<rect x="155.8" y="182.49" width="1.2" height="1.2" fill="#707070"/>
<circle cx="94.4" cy="173.92" r="1.25" fill="#141414"/>
<circle cx="97.5" cy="173.92" r="1.25" fill="#141414"/>
<circle cx="100.6" cy="172.48" r="1.25" fill="#141414"/>
<circle cx="103.7" cy="173.92" r="1.25" fill="#141414"/>
<circle cx="106.8" cy="172.96" r="1.25" fill="#141414"/>
<circle cx="109.9" cy="175.69" r="1.25" fill="#141414"/>
<circle cx="113" cy="174.89" r="1.25" fill="#141414"/>
<circle cx="116.1" cy="175.85" r="1.25" fill="#141414"/>
<circle cx="119.2" cy="183.09" r="1.25" fill="#141414"/>
<circle cx="122.3" cy="178.91" r="1.25" fill="#141414"/>
<circle cx="128.5" cy="182.29" r="1.25" fill="#141414"/>
<circle cx="131.6" cy="172.48" r="1.25" fill="#141414"/>
<circle cx="134.7" cy="170.06" r="1.25" fill="#141414"/>
<circle cx="137.8" cy="172.8" r="1.25" fill="#141414"/>
<circle cx="140.9" cy="175.21" r="1.25" fill="#141414"/>
<circle cx="144" cy="174.89" r="1.25" fill="#141414"/>
<circle cx="147.1" cy="171.67" r="1.25" fill="#141414"/>
<circle cx="150.2" cy="173.44" r="1.25" fill="#141414"/>
<circle cx="153.3" cy="173.92" r="1.25" fill="#141414"/>
<circle cx="156.4" cy="169.74" r="1.25" fill="#141414"/>
<path d="M218.6 128.9 V209.3 H249.9 M257.2 128.9 H288.6 V209.3 H257.2 M218.6 128.9 H249.9 M257.2 209.3 H288.6" fill="none" stroke="#b4b4b4" stroke-width="1"/>
<path d="M185.2 128.9 V209.3 M181.4 209.3 H185.2 M181.4 193.22 H185.2 M181.4 177.14 H185.2 M181.4 161.06 H185.2 M181.4 144.98 H185.2 M181.4 128.9 H185.2" fill="none" stroke="#3a3a3a" stroke-width="1"/>
<path d="M321.5 128.9 V209.3 M321.5 209.3 H325.3 M321.5 193.22 H325.3 M321.5 177.14 H325.3 M321.5 161.06 H325.3 M321.5 144.98 H325.3 M321.5 128.9 H325.3" fill="none" stroke="#3a3a3a" stroke-width="1"/>
<text x="328.5" y="211.2" font-size="4.5" fill="#333" stroke="#333" stroke-width="0.06">0.0</text>
<text x="328.5" y="195.12" font-size="4.5" fill="#333" stroke="#333" stroke-width="0.06">0.1</text>
<text x="328.5" y="179.04" font-size="4.5" fill="#333" stroke="#333" stroke-width="0.06">0.2</text>
<text x="328.5" y="162.96" font-size="4.5" fill="#333" stroke="#333" stroke-width="0.06">0.3</text>
<text x="328.5" y="146.88" font-size="4.5" fill="#333" stroke="#333" stroke-width="0.06">0.4</text>
<text x="328.5" y="130.8" font-size="4.5" fill="#333" stroke="#333" stroke-width="0.06">0.5</text>
<path d="M187.3 212.1 H250 M187.6 212.1 V215.5 M190.7 212.1 V215.5 M193.8 212.1 V215.5 M196.9 212.1 V215.5 M200 212.1 V215.5 M203.1 212.1 V215.5 M206.2 212.1 V215.5 M209.3 212.1 V215.5 M212.4 212.1 V215.5 M215.5 212.1 V215.5 M221.7 212.1 V215.5 M224.8 212.1 V215.5 M227.9 212.1 V215.5 M231 212.1 V215.5 M234.1 212.1 V215.5 M237.2 212.1 V215.5 M240.3 212.1 V215.5 M243.4 212.1 V215.5 M246.5 212.1 V215.5 M249.6 212.1 V215.5" fill="none" stroke="#3a3a3a" stroke-width="0.9"/>
<text transform="translate(189.1 218.6) rotate(-90)" text-anchor="end" font-size="4.2" fill="#222" stroke="#222" stroke-width="0.12">-10</text>
<text transform="translate(195.3 218.6) rotate(-90)" text-anchor="end" font-size="4.2" fill="#222" stroke="#222" stroke-width="0.12">-8</text>
<text transform="translate(201.5 218.6) rotate(-90)" text-anchor="end" font-size="4.2" fill="#222" stroke="#222" stroke-width="0.12">-6</text>
<text transform="translate(207.7 218.6) rotate(-90)" text-anchor="end" font-size="4.2" fill="#222" stroke="#222" stroke-width="0.12">-4</text>
<text transform="translate(213.9 218.6) rotate(-90)" text-anchor="end" font-size="4.2" fill="#222" stroke="#222" stroke-width="0.12">-2</text>
<text transform="translate(223.2 218.6) rotate(-90)" text-anchor="end" font-size="4.2" fill="#222" stroke="#222" stroke-width="0.12">1</text>
<text transform="translate(229.4 218.6) rotate(-90)" text-anchor="end" font-size="4.2" fill="#222" stroke="#222" stroke-width="0.12">3</text>
<text transform="translate(235.6 218.6) rotate(-90)" text-anchor="end" font-size="4.2" fill="#222" stroke="#222" stroke-width="0.12">5</text>
<text transform="translate(241.8 218.6) rotate(-90)" text-anchor="end" font-size="4.2" fill="#222" stroke="#222" stroke-width="0.12">7</text>
<text transform="translate(248 218.6) rotate(-90)" text-anchor="end" font-size="4.2" fill="#222" stroke="#222" stroke-width="0.12">9</text>
<path d="M257.2 212.1 H319.4 M257.6 212.1 V215.5 M260.7 212.1 V215.5 M263.8 212.1 V215.5 M266.9 212.1 V215.5 M270 212.1 V215.5 M273.1 212.1 V215.5 M276.2 212.1 V215.5 M279.3 212.1 V215.5 M282.4 212.1 V215.5 M285.5 212.1 V215.5 M291.7 212.1 V215.5 M294.8 212.1 V215.5 M297.9 212.1 V215.5 M301 212.1 V215.5 M304.1 212.1 V215.5 M307.2 212.1 V215.5 M310.3 212.1 V215.5 M313.4 212.1 V215.5 M316.5 212.1 V215.5 M319.6 212.1 V215.5" fill="none" stroke="#3a3a3a" stroke-width="0.9"/>
<text transform="translate(259.1 218.6) rotate(-90)" text-anchor="end" font-size="4.2" fill="#222" stroke="#222" stroke-width="0.12">-10</text>
<text transform="translate(265.3 218.6) rotate(-90)" text-anchor="end" font-size="4.2" fill="#222" stroke="#222" stroke-width="0.12">-8</text>
<text transform="translate(271.5 218.6) rotate(-90)" text-anchor="end" font-size="4.2" fill="#222" stroke="#222" stroke-width="0.12">-6</text>
<text transform="translate(277.7 218.6) rotate(-90)" text-anchor="end" font-size="4.2" fill="#222" stroke="#222" stroke-width="0.12">-4</text>
<text transform="translate(283.9 218.6) rotate(-90)" text-anchor="end" font-size="4.2" fill="#222" stroke="#222" stroke-width="0.12">-2</text>
<text transform="translate(293.2 218.6) rotate(-90)" text-anchor="end" font-size="4.2" fill="#222" stroke="#222" stroke-width="0.12">1</text>
<text transform="translate(299.4 218.6) rotate(-90)" text-anchor="end" font-size="4.2" fill="#222" stroke="#222" stroke-width="0.12">3</text>
<text transform="translate(305.6 218.6) rotate(-90)" text-anchor="end" font-size="4.2" fill="#222" stroke="#222" stroke-width="0.12">5</text>
<text transform="translate(311.8 218.6) rotate(-90)" text-anchor="end" font-size="4.2" fill="#222" stroke="#222" stroke-width="0.12">7</text>
<text transform="translate(318 218.6) rotate(-90)" text-anchor="end" font-size="4.2" fill="#222" stroke="#222" stroke-width="0.12">9</text>
<text x="218.6" y="125.5" text-anchor="middle" font-size="8" fill="#2a2a2a" stroke="#2a2a2a" stroke-width="0.3">T</text>
<text x="288.6" y="125.5" text-anchor="middle" font-size="8" fill="#2a2a2a" stroke="#2a2a2a" stroke-width="0.3">T</text>
<path d="M187.6 165.69 L190.7 164.65 L193.8 165.54 L196.9 166.87 L200 165.69 L203.1 162.58 L206.2 166.87 L209.3 167.61 L212.4 163.47 L215.5 183.73 L221.7 153.26 L224.8 160.95 L227.9 164.65 L231 164.65 L234.1 164.35 L237.2 168.05 L240.3 164.06 L243.4 162.13 L246.5 165.54 L249.6 164.65" fill="none" stroke="#ff7a7a" stroke-width="0.6"/>
<rect x="187" y="157.57" width="1.2" height="1.2" fill="#ff7070"/>
<rect x="187" y="172.84" width="1.2" height="1.2" fill="#ff7070"/>
<rect x="190.1" y="155.8" width="1.2" height="1.2" fill="#ff7070"/>
<rect x="190.1" y="172.04" width="1.2" height="1.2" fill="#ff7070"/>
<rect x="193.2" y="159.98" width="1.2" height="1.2" fill="#ff7070"/>
<rect x="193.2" y="168.82" width="1.2" height="1.2" fill="#ff7070"/>
<rect x="196.3" y="162.23" width="1.2" height="1.2" fill="#ff7070"/>
<rect x="196.3" y="170.75" width="1.2" height="1.2" fill="#ff7070"/>
<rect x="199.4" y="161.1" width="1.2" height="1.2" fill="#ff7070"/>
<rect x="199.4" y="169.14" width="1.2" height="1.2" fill="#ff7070"/>
<rect x="202.5" y="154.44" width="1.2" height="1.2" fill="#ff7070"/>
<rect x="202.5" y="167.41" width="1.2" height="1.2" fill="#ff7070"/>
<rect x="205.6" y="161.75" width="1.2" height="1.2" fill="#ff7070"/>
<rect x="205.6" y="170.75" width="1.2" height="1.2" fill="#ff7070"/>
<rect x="208.7" y="161.1" width="1.2" height="1.2" fill="#ff7070"/>
<rect x="208.7" y="174.29" width="1.2" height="1.2" fill="#ff7070"/>
<rect x="211.8" y="157.47" width="1.2" height="1.2" fill="#ff7070"/>
<rect x="211.8" y="167.88" width="1.2" height="1.2" fill="#ff7070"/>
<rect x="214.9" y="179.02" width="1.2" height="1.2" fill="#ff7070"/>
<rect x="214.9" y="191.93" width="1.2" height="1.2" fill="#ff7070"/>
<rect x="221.1" y="143.74" width="1.2" height="1.2" fill="#ff7070"/>
<rect x="221.1" y="156.96" width="1.2" height="1.2" fill="#ff7070"/>
<rect x="224.2" y="156.28" width="1.2" height="1.2" fill="#ff7070"/>
<rect x="224.2" y="166.48" width="1.2" height="1.2" fill="#ff7070"/>
<rect x="227.3" y="159.98" width="1.2" height="1.2" fill="#ff7070"/>
<rect x="227.3" y="168.18" width="1.2" height="1.2" fill="#ff7070"/>
<rect x="230.4" y="158.69" width="1.2" height="1.2" fill="#ff7070"/>
<rect x="230.4" y="169.14" width="1.2" height="1.2" fill="#ff7070"/>
<rect x="233.5" y="161.42" width="1.2" height="1.2" fill="#ff7070"/>
<rect x="233.5" y="166.89" width="1.2" height="1.2" fill="#ff7070"/>
<rect x="236.6" y="161.02" width="1.2" height="1.2" fill="#ff7070"/>
<rect x="236.6" y="170.75" width="1.2" height="1.2" fill="#ff7070"/>
<rect x="239.7" y="158.69" width="1.2" height="1.2" fill="#ff7070"/>
<rect x="239.7" y="168.18" width="1.2" height="1.2" fill="#ff7070"/>
<rect x="242.8" y="158.69" width="1.2" height="1.2" fill="#ff7070"/>
<rect x="242.8" y="167.17" width="1.2" height="1.2" fill="#ff7070"/>
<rect x="245.9" y="157.08" width="1.2" height="1.2" fill="#ff7070"/>
<rect x="245.9" y="172.84" width="1.2" height="1.2" fill="#ff7070"/>
<rect x="249" y="157.59" width="1.2" height="1.2" fill="#ff7070"/>
<rect x="249" y="169" width="1.2" height="1.2" fill="#ff7070"/>
<circle cx="187.6" cy="165.72" r="1.25" fill="#ff1414"/>
<circle cx="190.7" cy="164.6" r="1.25" fill="#ff1414"/>
<circle cx="193.8" cy="165.56" r="1.25" fill="#ff1414"/>
<circle cx="196.9" cy="167.01" r="1.25" fill="#ff1414"/>
<circle cx="200" cy="165.72" r="1.25" fill="#ff1414"/>
<circle cx="203.1" cy="162.35" r="1.25" fill="#ff1414"/>
<circle cx="206.2" cy="167.01" r="1.25" fill="#ff1414"/>
<circle cx="209.3" cy="167.81" r="1.25" fill="#ff1414"/>
<circle cx="212.4" cy="163.31" r="1.25" fill="#ff1414"/>
<circle cx="215.5" cy="185.34" r="1.25" fill="#ff1414"/>
<circle cx="221.7" cy="152.22" r="1.25" fill="#ff1414"/>
<circle cx="224.8" cy="160.58" r="1.25" fill="#ff1414"/>
<circle cx="227.9" cy="164.6" r="1.25" fill="#ff1414"/>
<circle cx="231" cy="164.6" r="1.25" fill="#ff1414"/>
<circle cx="234.1" cy="164.28" r="1.25" fill="#ff1414"/>
<circle cx="237.2" cy="168.3" r="1.25" fill="#ff1414"/>
<circle cx="240.3" cy="163.95" r="1.25" fill="#ff1414"/>
<circle cx="243.4" cy="161.86" r="1.25" fill="#ff1414"/>
<circle cx="246.5" cy="165.56" r="1.25" fill="#ff1414"/>
<circle cx="249.6" cy="164.6" r="1.25" fill="#ff1414"/>
<path d="M257.6 163.71 L260.7 166.38 L263.8 168.15 L266.9 165.93 L270 162.97 L273.1 165.49 L276.2 165.05 L279.3 162.53 L282.4 165.05 L285.5 171.11 L291.7 149.36 L294.8 166.38 L297.9 167.56 L301 162.53 L304.1 164.31 L307.2 162.83 L310.3 165.49 L313.4 165.05 L316.5 167.56 L319.6 165.49" fill="none" stroke="#ff7a7a" stroke-width="0.6"/>
<rect x="257" y="158.04" width="1.2" height="1.2" fill="#ff7070"/>
<rect x="257" y="168.45" width="1.2" height="1.2" fill="#ff7070"/>
<rect x="260.1" y="158.05" width="1.2" height="1.2" fill="#ff7070"/>
<rect x="260.1" y="173.32" width="1.2" height="1.2" fill="#ff7070"/>
<rect x="263.2" y="161.06" width="1.2" height="1.2" fill="#ff7070"/>
<rect x="263.2" y="173.32" width="1.2" height="1.2" fill="#ff7070"/>
<rect x="266.3" y="157.73" width="1.2" height="1.2" fill="#ff7070"/>
<rect x="266.3" y="173.32" width="1.2" height="1.2" fill="#ff7070"/>
<rect x="269.4" y="156.28" width="1.2" height="1.2" fill="#ff7070"/>
<rect x="269.4" y="168.66" width="1.2" height="1.2" fill="#ff7070"/>
<rect x="272.5" y="160.46" width="1.2" height="1.2" fill="#ff7070"/>
<rect x="272.5" y="170.11" width="1.2" height="1.2" fill="#ff7070"/>
<rect x="275.6" y="159.66" width="1.2" height="1.2" fill="#ff7070"/>
<rect x="275.6" y="170.11" width="1.2" height="1.2" fill="#ff7070"/>
<rect x="278.7" y="157.24" width="1.2" height="1.2" fill="#ff7070"/>
<rect x="278.7" y="167.81" width="1.2" height="1.2" fill="#ff7070"/>
<rect x="281.8" y="158.75" width="1.2" height="1.2" fill="#ff7070"/>
<rect x="281.8" y="168.5" width="1.2" height="1.2" fill="#ff7070"/>
<rect x="284.9" y="164.55" width="1.2" height="1.2" fill="#ff7070"/>
<rect x="284.9" y="178.79" width="1.2" height="1.2" fill="#ff7070"/>
<rect x="291.1" y="139.72" width="1.2" height="1.2" fill="#ff7070"/>
<rect x="291.1" y="153.57" width="1.2" height="1.2" fill="#ff7070"/>
<rect x="294.2" y="160.24" width="1.2" height="1.2" fill="#ff7070"/>
<rect x="294.2" y="173.05" width="1.2" height="1.2" fill="#ff7070"/>
<rect x="297.3" y="160.37" width="1.2" height="1.2" fill="#ff7070"/>
<rect x="297.3" y="168.82" width="1.2" height="1.2" fill="#ff7070"/>
<rect x="300.4" y="155.64" width="1.2" height="1.2" fill="#ff7070"/>
<rect x="300.4" y="168.5" width="1.2" height="1.2" fill="#ff7070"/>
<rect x="303.5" y="158.05" width="1.2" height="1.2" fill="#ff7070"/>
<rect x="303.5" y="168.82" width="1.2" height="1.2" fill="#ff7070"/>
<rect x="306.6" y="154.67" width="1.2" height="1.2" fill="#ff7070"/>
<rect x="306.6" y="168.5" width="1.2" height="1.2" fill="#ff7070"/>
<rect x="309.7" y="158.05" width="1.2" height="1.2" fill="#ff7070"/>
<rect x="309.7" y="171.39" width="1.2" height="1.2" fill="#ff7070"/>
<rect x="312.8" y="159.66" width="1.2" height="1.2" fill="#ff7070"/>
<rect x="312.8" y="169.3" width="1.2" height="1.2" fill="#ff7070"/>
<rect x="315.9" y="161.68" width="1.2" height="1.2" fill="#ff7070"/>
<rect x="315.9" y="173.65" width="1.2" height="1.2" fill="#ff7070"/>
<rect x="319" y="157.73" width="1.2" height="1.2" fill="#ff7070"/>
<rect x="319" y="172.04" width="1.2" height="1.2" fill="#ff7070"/>
<circle cx="257.6" cy="163.63" r="1.25" fill="#ff1414"/>
<circle cx="260.7" cy="166.53" r="1.25" fill="#ff1414"/>
<circle cx="263.8" cy="168.46" r="1.25" fill="#ff1414"/>
<circle cx="266.9" cy="166.04" r="1.25" fill="#ff1414"/>
<circle cx="270" cy="162.83" r="1.25" fill="#ff1414"/>
<circle cx="273.1" cy="165.56" r="1.25" fill="#ff1414"/>
<circle cx="276.2" cy="165.08" r="1.25" fill="#ff1414"/>
<circle cx="279.3" cy="162.35" r="1.25" fill="#ff1414"/>
<circle cx="282.4" cy="165.08" r="1.25" fill="#ff1414"/>
<circle cx="285.5" cy="171.67" r="1.25" fill="#ff1414"/>
<circle cx="291.7" cy="148.04" r="1.25" fill="#ff1414"/>
<circle cx="294.8" cy="166.53" r="1.25" fill="#ff1414"/>
<circle cx="297.9" cy="167.81" r="1.25" fill="#ff1414"/>
<circle cx="301" cy="162.35" r="1.25" fill="#ff1414"/>
<circle cx="304.1" cy="164.28" r="1.25" fill="#ff1414"/>
<circle cx="307.2" cy="162.67" r="1.25" fill="#ff1414"/>
<circle cx="310.3" cy="165.56" r="1.25" fill="#ff1414"/>
<circle cx="313.4" cy="165.08" r="1.25" fill="#ff1414"/>
<circle cx="316.5" cy="167.81" r="1.25" fill="#ff1414"/>
<circle cx="319.6" cy="165.56" r="1.25" fill="#ff1414"/>
<path d="M24.5 228.4 H159.8 M24.5 228.4 V311 H159.8" fill="none" stroke="#b4b4b4" stroke-width="1"/>
<path d="M22.4 228.4 V308.5 M18.6 308.5 H22.4 M18.6 295.15 H22.4 M18.6 281.8 H22.4 M18.6 268.45 H22.4 M18.6 255.1 H22.4 M18.6 241.75 H22.4 M18.6 228.4 H22.4" fill="none" stroke="#3a3a3a" stroke-width="1"/>
<text x="15.4" y="310.1" text-anchor="end" font-size="4.4" fill="#333" stroke="#333" stroke-width="0.06">0.00</text>
<text x="15.4" y="296.75" text-anchor="end" font-size="4.4" fill="#333" stroke="#333" stroke-width="0.06">0.05</text>
<text x="15.4" y="283.4" text-anchor="end" font-size="4.4" fill="#333" stroke="#333" stroke-width="0.06">0.10</text>
<text x="15.4" y="270.05" text-anchor="end" font-size="4.4" fill="#333" stroke="#333" stroke-width="0.06">0.15</text>
<text x="15.4" y="256.7" text-anchor="end" font-size="4.4" fill="#333" stroke="#333" stroke-width="0.06">0.20</text>
<text x="15.4" y="243.35" text-anchor="end" font-size="4.4" fill="#333" stroke="#333" stroke-width="0.06">0.25</text>
<text x="15.4" y="230" text-anchor="end" font-size="4.4" fill="#333" stroke="#333" stroke-width="0.06">0.30</text>
<text transform="translate(4.1 268.45) rotate(-90)" text-anchor="middle" font-size="4.9" fill="#2a2a2a" stroke="#2a2a2a" stroke-width="0.06">Frequency</text>
<path d="M27.2 311.6 H159.39 M27.2 311.6 V315 M32.71 311.6 V315 M38.22 311.6 V315 M43.72 311.6 V315 M49.23 311.6 V315 M54.74 311.6 V315 M60.25 311.6 V315 M65.76 311.6 V315 M71.26 311.6 V315 M76.77 311.6 V315 M82.28 311.6 V315 M87.79 311.6 V315 M93.3 311.6 V315 M98.8 311.6 V315 M104.31 311.6 V315 M109.82 311.6 V315 M115.33 311.6 V315 M120.84 311.6 V315 M126.34 311.6 V315 M131.85 311.6 V315 M137.36 311.6 V315 M142.87 311.6 V315 M148.38 311.6 V315 M153.88 311.6 V315 M159.39 311.6 V315" fill="none" stroke="#3a3a3a" stroke-width="0.9"/>
<text transform="translate(28.7 318.4) rotate(-90)" text-anchor="end" font-size="4.2" fill="#222" stroke="#222" stroke-width="0.12">1</text>
<text transform="translate(34.21 318.4) rotate(-90)" text-anchor="end" font-size="4.2" fill="#222" stroke="#222" stroke-width="0.12">2</text>
<text transform="translate(39.72 318.4) rotate(-90)" text-anchor="end" font-size="4.2" fill="#222" stroke="#222" stroke-width="0.12">3</text>
<text transform="translate(45.22 318.4) rotate(-90)" text-anchor="end" font-size="4.2" fill="#222" stroke="#222" stroke-width="0.12">4</text>
<text transform="translate(50.73 318.4) rotate(-90)" text-anchor="end" font-size="4.2" fill="#222" stroke="#222" stroke-width="0.12">5</text>
<text transform="translate(56.24 318.4) rotate(-90)" text-anchor="end" font-size="4.2" fill="#222" stroke="#222" stroke-width="0.12">6</text>
<text transform="translate(61.75 318.4) rotate(-90)" text-anchor="end" font-size="4.2" fill="#222" stroke="#222" stroke-width="0.12">7</text>
<text transform="translate(67.26 318.4) rotate(-90)" text-anchor="end" font-size="4.2" fill="#222" stroke="#222" stroke-width="0.12">8</text>
<text transform="translate(72.76 318.4) rotate(-90)" text-anchor="end" font-size="4.2" fill="#222" stroke="#222" stroke-width="0.12">9</text>
<text transform="translate(78.27 318.4) rotate(-90)" text-anchor="end" font-size="4.2" fill="#222" stroke="#222" stroke-width="0.12">10</text>
<text transform="translate(83.78 318.4) rotate(-90)" text-anchor="end" font-size="4.2" fill="#222" stroke="#222" stroke-width="0.12">11</text>
<text transform="translate(89.29 318.4) rotate(-90)" text-anchor="end" font-size="4.2" fill="#222" stroke="#222" stroke-width="0.12">12</text>
<text transform="translate(94.8 318.4) rotate(-90)" text-anchor="end" font-size="4.2" fill="#222" stroke="#222" stroke-width="0.12">13</text>
<text transform="translate(100.3 318.4) rotate(-90)" text-anchor="end" font-size="4.2" fill="#222" stroke="#222" stroke-width="0.12">14</text>
<text transform="translate(105.81 318.4) rotate(-90)" text-anchor="end" font-size="4.2" fill="#222" stroke="#222" stroke-width="0.12">15</text>
<text transform="translate(111.32 318.4) rotate(-90)" text-anchor="end" font-size="4.2" fill="#222" stroke="#222" stroke-width="0.12">16</text>
<text transform="translate(116.83 318.4) rotate(-90)" text-anchor="end" font-size="4.2" fill="#222" stroke="#222" stroke-width="0.12">17</text>
<text transform="translate(122.34 318.4) rotate(-90)" text-anchor="end" font-size="4.2" fill="#222" stroke="#222" stroke-width="0.12">18</text>
<text transform="translate(127.84 318.4) rotate(-90)" text-anchor="end" font-size="4.2" fill="#222" stroke="#222" stroke-width="0.12">19</text>
<text transform="translate(133.35 318.4) rotate(-90)" text-anchor="end" font-size="4.2" fill="#222" stroke="#222" stroke-width="0.12">20</text>
<text transform="translate(138.86 318.4) rotate(-90)" text-anchor="end" font-size="4.2" fill="#222" stroke="#222" stroke-width="0.12">21</text>
<text transform="translate(144.37 318.4) rotate(-90)" text-anchor="end" font-size="4.2" fill="#222" stroke="#222" stroke-width="0.12">22</text>
<text transform="translate(149.88 318.4) rotate(-90)" text-anchor="end" font-size="4.2" fill="#222" stroke="#222" stroke-width="0.12">23</text>
<text transform="translate(155.38 318.4) rotate(-90)" text-anchor="end" font-size="4.2" fill="#222" stroke="#222" stroke-width="0.12">24</text>
<text transform="translate(160.89 318.4) rotate(-90)" text-anchor="end" font-size="4.2" fill="#222" stroke="#222" stroke-width="0.12">25</text>
<path d="M27.2 306.9 L32.71 306.9 L38.22 306.9 L43.72 306.9 L49.23 306.9 L54.74 306.9 L60.25 306.9 L65.76 306.9 L71.26 306.9 L76.77 306.9 L82.28 306.9 L87.79 306.9 L93.3 306.9 L98.8 306.9 L104.31 306.9 L109.82 306.9 L115.33 306.9 L120.84 306.9 L126.34 306.9 L131.85 306.9 L137.36 306.9 L142.87 306.9 L148.38 306.9 L153.88 306.9 L159.39 306.9" fill="none" stroke="#c4c4c4" stroke-width="0.7" stroke-linejoin="round" opacity="1"/>
<path d="M27.2 308.1 L32.71 308.1 L38.22 308.1 L43.72 308.1 L49.23 308.1 L54.74 308.1 L60.25 308.1 L65.76 308.1 L71.26 308.1 L76.77 308.1 L82.28 308.1 L87.79 308.1 L93.3 308.1 L98.8 308.1 L104.31 308.1 L109.82 308.1 L115.33 308.1 L120.84 308.1 L126.34 308.1 L131.85 308.1 L137.36 308.1 L142.87 308.1 L148.38 308.1 L153.88 308.1 L159.39 308.1" fill="none" stroke="#a040e0" stroke-width="1.1" stroke-linejoin="round" opacity="1"/>
<path d="M27.2 296.75 L32.71 296.75 L38.22 299.29 L43.72 300.49 L49.23 301.56 L54.74 302.89 L60.25 303.96 L65.76 304.76 L71.26 305.56 L76.77 306.1 L82.28 306.23 L87.79 306.1 L93.3 305.96 L98.8 305.88 L104.31 305.88 L109.82 305.88 L115.33 305.96 L120.84 306.1 L126.34 306.1 L131.85 306.23 L137.36 306.36 L142.87 306.36 L148.38 306.63 L153.88 306.76 L159.39 306.9" fill="none" stroke="#ffa850" stroke-width="0.8" stroke-linejoin="round" opacity="1"/>
<path d="M27.2 308.1 L32.71 308.23 L38.22 307.43 L43.72 308.23 L49.23 308.1 L54.74 306.76 L60.25 306.76 L65.76 307.43 L71.26 306.36 L76.77 306.1 L82.28 306.36 L87.79 304.23 L93.3 304.09 L98.8 303 L104.31 303.8 L109.82 307.17 L115.33 305.83 L120.84 302.71 L126.34 303.8 L131.85 301.4 L137.36 305.08 L142.87 302.71 L148.38 300.3 L153.88 302.71 L159.39 302.09" fill="none" stroke="#1a1aff" stroke-width="1.25" stroke-linejoin="round" opacity="1"/>
<path d="M27.2 249.33 L32.71 266.05 L38.22 283.94 L43.72 289.68 L49.23 289.01 L54.74 285.81 L60.25 286.07 L65.76 290.34 L71.26 289.01 L76.77 292.88 L82.28 298.19 L87.79 296.08 L93.3 299.96 L98.8 298.19 L104.31 294.88 L109.82 301.1 L115.33 299.69 L120.84 297.55 L126.34 295.95 L131.85 301.1 L137.36 299.29 L142.87 303 L148.38 296.08 L153.88 302.71 L159.39 298.99" fill="none" stroke="#ff1a1a" stroke-width="1.25" stroke-linejoin="round" opacity="1"/>
<path d="M183.7 228.4 H319.2 V311 H183.7" fill="none" stroke="#b4b4b4" stroke-width="1"/>
<path d="M321.5 228.4 V308.5 M321.5 308.5 H325.3 M321.5 295.15 H325.3 M321.5 281.8 H325.3 M321.5 268.45 H325.3 M321.5 255.1 H325.3 M321.5 241.75 H325.3 M321.5 228.4 H325.3" fill="none" stroke="#3a3a3a" stroke-width="1"/>
<text x="328.2" y="310.1" font-size="4.4" fill="#333" stroke="#333" stroke-width="0.06">0.00</text>
<text x="328.2" y="296.75" font-size="4.4" fill="#333" stroke="#333" stroke-width="0.06">0.05</text>
<text x="328.2" y="283.4" font-size="4.4" fill="#333" stroke="#333" stroke-width="0.06">0.10</text>
<text x="328.2" y="270.05" font-size="4.4" fill="#333" stroke="#333" stroke-width="0.06">0.15</text>
<text x="328.2" y="256.7" font-size="4.4" fill="#333" stroke="#333" stroke-width="0.06">0.20</text>
<text x="328.2" y="243.35" font-size="4.4" fill="#333" stroke="#333" stroke-width="0.06">0.25</text>
<text x="328.2" y="230" font-size="4.4" fill="#333" stroke="#333" stroke-width="0.06">0.30</text>
<path d="M184 311.6 H316.41 M184 311.6 V315 M189.52 311.6 V315 M195.03 311.6 V315 M200.55 311.6 V315 M206.07 311.6 V315 M211.59 311.6 V315 M217.1 311.6 V315 M222.62 311.6 V315 M228.14 311.6 V315 M233.65 311.6 V315 M239.17 311.6 V315 M244.69 311.6 V315 M250.2 311.6 V315 M255.72 311.6 V315 M261.24 311.6 V315 M266.75 311.6 V315 M272.27 311.6 V315 M277.79 311.6 V315 M283.31 311.6 V315 M288.82 311.6 V315 M294.34 311.6 V315 M299.86 311.6 V315 M305.37 311.6 V315 M310.89 311.6 V315 M316.41 311.6 V315" fill="none" stroke="#3a3a3a" stroke-width="0.9"/>
<text transform="translate(185.5 318.4) rotate(-90)" text-anchor="end" font-size="4.2" fill="#222" stroke="#222" stroke-width="0.12">-25</text>
<text transform="translate(191.02 318.4) rotate(-90)" text-anchor="end" font-size="4.2" fill="#222" stroke="#222" stroke-width="0.12">-24</text>
<text transform="translate(196.53 318.4) rotate(-90)" text-anchor="end" font-size="4.2" fill="#222" stroke="#222" stroke-width="0.12">-23</text>
<text transform="translate(202.05 318.4) rotate(-90)" text-anchor="end" font-size="4.2" fill="#222" stroke="#222" stroke-width="0.12">-22</text>
<text transform="translate(207.57 318.4) rotate(-90)" text-anchor="end" font-size="4.2" fill="#222" stroke="#222" stroke-width="0.12">-21</text>
<text transform="translate(213.09 318.4) rotate(-90)" text-anchor="end" font-size="4.2" fill="#222" stroke="#222" stroke-width="0.12">-20</text>
<text transform="translate(218.6 318.4) rotate(-90)" text-anchor="end" font-size="4.2" fill="#222" stroke="#222" stroke-width="0.12">-19</text>
<text transform="translate(224.12 318.4) rotate(-90)" text-anchor="end" font-size="4.2" fill="#222" stroke="#222" stroke-width="0.12">-18</text>
<text transform="translate(229.64 318.4) rotate(-90)" text-anchor="end" font-size="4.2" fill="#222" stroke="#222" stroke-width="0.12">-17</text>
<text transform="translate(235.15 318.4) rotate(-90)" text-anchor="end" font-size="4.2" fill="#222" stroke="#222" stroke-width="0.12">-16</text>
<text transform="translate(240.67 318.4) rotate(-90)" text-anchor="end" font-size="4.2" fill="#222" stroke="#222" stroke-width="0.12">-15</text>
<text transform="translate(246.19 318.4) rotate(-90)" text-anchor="end" font-size="4.2" fill="#222" stroke="#222" stroke-width="0.12">-14</text>
<text transform="translate(251.7 318.4) rotate(-90)" text-anchor="end" font-size="4.2" fill="#222" stroke="#222" stroke-width="0.12">-13</text>
<text transform="translate(257.22 318.4) rotate(-90)" text-anchor="end" font-size="4.2" fill="#222" stroke="#222" stroke-width="0.12">-12</text>
<text transform="translate(262.74 318.4) rotate(-90)" text-anchor="end" font-size="4.2" fill="#222" stroke="#222" stroke-width="0.12">-11</text>
<text transform="translate(268.25 318.4) rotate(-90)" text-anchor="end" font-size="4.2" fill="#222" stroke="#222" stroke-width="0.12">-10</text>
<text transform="translate(273.77 318.4) rotate(-90)" text-anchor="end" font-size="4.2" fill="#222" stroke="#222" stroke-width="0.12">-9</text>
<text transform="translate(279.29 318.4) rotate(-90)" text-anchor="end" font-size="4.2" fill="#222" stroke="#222" stroke-width="0.12">-8</text>
<text transform="translate(284.81 318.4) rotate(-90)" text-anchor="end" font-size="4.2" fill="#222" stroke="#222" stroke-width="0.12">-7</text>
<text transform="translate(290.32 318.4) rotate(-90)" text-anchor="end" font-size="4.2" fill="#222" stroke="#222" stroke-width="0.12">-6</text>
<text transform="translate(295.84 318.4) rotate(-90)" text-anchor="end" font-size="4.2" fill="#222" stroke="#222" stroke-width="0.12">-5</text>
<text transform="translate(301.36 318.4) rotate(-90)" text-anchor="end" font-size="4.2" fill="#222" stroke="#222" stroke-width="0.12">-4</text>
<text transform="translate(306.87 318.4) rotate(-90)" text-anchor="end" font-size="4.2" fill="#222" stroke="#222" stroke-width="0.12">-3</text>
<text transform="translate(312.39 318.4) rotate(-90)" text-anchor="end" font-size="4.2" fill="#222" stroke="#222" stroke-width="0.12">-2</text>
<text transform="translate(317.91 318.4) rotate(-90)" text-anchor="end" font-size="4.2" fill="#222" stroke="#222" stroke-width="0.12">-1</text>
<path d="M184 306.9 L189.52 306.9 L195.03 306.9 L200.55 306.9 L206.07 306.9 L211.59 306.9 L217.1 306.9 L222.62 306.9 L228.14 306.9 L233.65 306.9 L239.17 306.9 L244.69 306.9 L250.2 306.9 L255.72 306.9 L261.24 306.9 L266.75 306.9 L272.27 306.9 L277.79 306.9 L283.31 306.9 L288.82 306.9 L294.34 306.9 L299.86 306.9 L305.37 306.9 L310.89 306.9 L316.41 306.9" fill="none" stroke="#c4c4c4" stroke-width="0.7" stroke-linejoin="round" opacity="1"/>
<path d="M184 308.1 L189.52 308.1 L195.03 308.1 L200.55 308.1 L206.07 308.1 L211.59 308.1 L217.1 308.1 L222.62 308.1 L228.14 308.1 L233.65 308.1 L239.17 308.1 L244.69 308.1 L250.2 308.1 L255.72 308.1 L261.24 308.1 L266.75 308.1 L272.27 308.1 L277.79 308.1 L283.31 308.1 L288.82 308.1 L294.34 308.1 L299.86 308.1 L305.37 308.1 L310.89 308.1 L316.41 308.1" fill="none" stroke="#a040e0" stroke-width="1.1" stroke-linejoin="round" opacity="1"/>
<path d="M184 306.2 L189.52 306.15 L195.03 306.1 L200.55 305.96 L206.07 305.83 L211.59 305.7 L217.1 305.56 L222.62 305.43 L228.14 305.3 L233.65 305.16 L239.17 305.03 L244.69 304.9 L250.2 304.76 L255.72 304.5 L261.24 304.5 L266.75 304.5 L272.27 303.96 L277.79 303.43 L283.31 302.36 L288.82 301.1 L294.34 300.22 L299.86 298.89 L305.37 297.82 L310.89 296.49 L316.41 296.49" fill="none" stroke="#ffa850" stroke-width="0.8" stroke-linejoin="round" opacity="1"/>
<path d="M184 298.89 L189.52 302.49 L195.03 296.08 L200.55 302.71 L206.07 298.99 L211.59 301.1 L217.1 295.95 L222.62 296.08 L228.14 299.29 L233.65 300.76 L239.17 294.88 L244.69 298.19 L250.2 299.96 L255.72 296.08 L261.24 298.19 L266.75 292.88 L272.27 288.48 L277.79 290.08 L283.31 286.07 L288.82 286.07 L294.34 289.38 L299.86 289.54 L305.37 283.94 L310.89 264.98 L316.41 249.23" fill="none" stroke="#1a1aff" stroke-width="1.25" stroke-linejoin="round" opacity="1"/>
<path d="M184 302.09 L189.52 302.71 L195.03 300.76 L200.55 302.71 L206.07 305.83 L211.59 301.4 L217.1 303.8 L222.62 302.71 L228.14 305.48 L233.65 307.17 L239.17 304.09 L244.69 303 L250.2 304.09 L255.72 303.96 L261.24 305.03 L266.75 306.2 L272.27 306.2 L277.79 307.3 L283.31 307.17 L288.82 307.17 L294.34 307.97 L299.86 307.97 L305.37 307.7 L310.89 307.97 L316.41 307.97" fill="none" stroke="#ff1a1a" stroke-width="1.25" stroke-linejoin="round" opacity="1"/>
<path d="M403.6 29.5 V109.9 H434.9 M442.2 29.5 H473.6 V109.9 H442.2 M403.6 29.5 H434.9 M442.2 109.9 H473.6" fill="none" stroke="#b4b4b4" stroke-width="1"/>
<path d="M370.6 29.5 V109.9 M366.8 109.9 H370.6 M366.8 93.82 H370.6 M366.8 77.74 H370.6 M366.8 61.66 H370.6 M366.8 45.58 H370.6 M366.8 29.5 H370.6" fill="none" stroke="#3a3a3a" stroke-width="1"/>
<path d="M506.7 29.5 V109.9 M506.7 109.9 H510.5 M506.7 93.82 H510.5 M506.7 77.74 H510.5 M506.7 61.66 H510.5 M506.7 45.58 H510.5 M506.7 29.5 H510.5" fill="none" stroke="#3a3a3a" stroke-width="1"/>
<text x="364" y="111.8" text-anchor="end" font-size="4.5" fill="#333" stroke="#333" stroke-width="0.06">0.0</text>
<text x="364" y="95.72" text-anchor="end" font-size="4.5" fill="#333" stroke="#333" stroke-width="0.06">0.1</text>
<text x="364" y="79.64" text-anchor="end" font-size="4.5" fill="#333" stroke="#333" stroke-width="0.06">0.2</text>
<text x="364" y="63.56" text-anchor="end" font-size="4.5" fill="#333" stroke="#333" stroke-width="0.06">0.3</text>
<text x="364" y="47.48" text-anchor="end" font-size="4.5" fill="#333" stroke="#333" stroke-width="0.06">0.4</text>
<text x="364" y="31.4" text-anchor="end" font-size="4.5" fill="#333" stroke="#333" stroke-width="0.06">0.5</text>
<text transform="translate(352.3 69.4) rotate(-90)" text-anchor="middle" font-size="4.9" fill="#2a2a2a" stroke="#2a2a2a" stroke-width="0.06">Frequency</text>
<path d="M372.3 112.9 H435 M372.6 112.9 V116.3 M375.7 112.9 V116.3 M378.8 112.9 V116.3 M381.9 112.9 V116.3 M385 112.9 V116.3 M388.1 112.9 V116.3 M391.2 112.9 V116.3 M394.3 112.9 V116.3 M397.4 112.9 V116.3 M400.5 112.9 V116.3 M406.7 112.9 V116.3 M409.8 112.9 V116.3 M412.9 112.9 V116.3 M416 112.9 V116.3 M419.1 112.9 V116.3 M422.2 112.9 V116.3 M425.3 112.9 V116.3 M428.4 112.9 V116.3 M431.5 112.9 V116.3 M434.6 112.9 V116.3" fill="none" stroke="#3a3a3a" stroke-width="0.9"/>
<path d="M442.2 112.9 H504.4 M442.6 112.9 V116.3 M445.7 112.9 V116.3 M448.8 112.9 V116.3 M451.9 112.9 V116.3 M455 112.9 V116.3 M458.1 112.9 V116.3 M461.2 112.9 V116.3 M464.3 112.9 V116.3 M467.4 112.9 V116.3 M470.5 112.9 V116.3 M476.7 112.9 V116.3 M479.8 112.9 V116.3 M482.9 112.9 V116.3 M486 112.9 V116.3 M489.1 112.9 V116.3 M492.2 112.9 V116.3 M495.3 112.9 V116.3 M498.4 112.9 V116.3 M501.5 112.9 V116.3 M504.6 112.9 V116.3" fill="none" stroke="#3a3a3a" stroke-width="0.9"/>
<text x="403.6" y="26.1" text-anchor="middle" font-size="8" fill="#2a2a2a" stroke="#2a2a2a" stroke-width="0.3">A</text>
<text x="473.6" y="26.1" text-anchor="middle" font-size="8" fill="#2a2a2a" stroke="#2a2a2a" stroke-width="0.3">A</text>
<path d="M372.6 66.12 L375.7 63.46 L378.8 69.08 L381.9 68.04 L385 68.34 L388.1 65.38 L391.2 64.34 L394.3 77.95 L397.4 63.46 L400.5 51.62 L406.7 76.33 L409.8 68.63 L412.9 68.34 L416 73.07 L419.1 59.46 L422.2 71.59 L425.3 68.04 L428.4 68.34 L431.5 66.12 L434.6 71.59" fill="none" stroke="#8080ff" stroke-width="0.6"/>
<rect x="372" y="58.49" width="1.2" height="1.2" fill="#6e6eff"/>
<rect x="372" y="71.83" width="1.2" height="1.2" fill="#6e6eff"/>
<rect x="375.1" y="50.61" width="1.2" height="1.2" fill="#6e6eff"/>
<rect x="375.1" y="74.08" width="1.2" height="1.2" fill="#6e6eff"/>
<rect x="378.2" y="63.95" width="1.2" height="1.2" fill="#6e6eff"/>
<rect x="378.2" y="75.92" width="1.2" height="1.2" fill="#6e6eff"/>
<rect x="381.3" y="52.06" width="1.2" height="1.2" fill="#6e6eff"/>
<rect x="381.3" y="81.64" width="1.2" height="1.2" fill="#6e6eff"/>
<rect x="384.4" y="60.68" width="1.2" height="1.2" fill="#6e6eff"/>
<rect x="384.4" y="69.9" width="1.2" height="1.2" fill="#6e6eff"/>
<rect x="387.5" y="58.49" width="1.2" height="1.2" fill="#6e6eff"/>
<rect x="387.5" y="69.9" width="1.2" height="1.2" fill="#6e6eff"/>
<rect x="390.6" y="62.51" width="1.2" height="1.2" fill="#6e6eff"/>
<rect x="390.6" y="71.75" width="1.2" height="1.2" fill="#6e6eff"/>
<rect x="393.7" y="70.46" width="1.2" height="1.2" fill="#6e6eff"/>
<rect x="393.7" y="84.63" width="1.2" height="1.2" fill="#6e6eff"/>
<rect x="396.8" y="58.97" width="1.2" height="1.2" fill="#6e6eff"/>
<rect x="396.8" y="68.3" width="1.2" height="1.2" fill="#6e6eff"/>
<rect x="399.9" y="28.42" width="1.2" height="1.2" fill="#6e6eff"/>
<rect x="399.9" y="69.9" width="1.2" height="1.2" fill="#6e6eff"/>
<rect x="406.1" y="67.88" width="1.2" height="1.2" fill="#6e6eff"/>
<rect x="406.1" y="79.55" width="1.2" height="1.2" fill="#6e6eff"/>
<rect x="409.2" y="62.32" width="1.2" height="1.2" fill="#6e6eff"/>
<rect x="409.2" y="71.51" width="1.2" height="1.2" fill="#6e6eff"/>
<rect x="412.3" y="63.95" width="1.2" height="1.2" fill="#6e6eff"/>
<rect x="412.3" y="74.6" width="1.2" height="1.2" fill="#6e6eff"/>
<rect x="415.4" y="65.07" width="1.2" height="1.2" fill="#6e6eff"/>
<rect x="415.4" y="81.64" width="1.2" height="1.2" fill="#6e6eff"/>
<rect x="418.5" y="51.73" width="1.2" height="1.2" fill="#6e6eff"/>
<rect x="418.5" y="63.95" width="1.2" height="1.2" fill="#6e6eff"/>
<rect x="421.6" y="65.43" width="1.2" height="1.2" fill="#6e6eff"/>
<rect x="421.6" y="78.37" width="1.2" height="1.2" fill="#6e6eff"/>
<rect x="424.7" y="57.04" width="1.2" height="1.2" fill="#6e6eff"/>
<rect x="424.7" y="76.82" width="1.2" height="1.2" fill="#6e6eff"/>
<rect x="427.8" y="62.26" width="1.2" height="1.2" fill="#6e6eff"/>
<rect x="427.8" y="75.42" width="1.2" height="1.2" fill="#6e6eff"/>
<rect x="430.9" y="61.86" width="1.2" height="1.2" fill="#6e6eff"/>
<rect x="430.9" y="73.32" width="1.2" height="1.2" fill="#6e6eff"/>
<rect x="434" y="64.06" width="1.2" height="1.2" fill="#6e6eff"/>
<rect x="434" y="75.69" width="1.2" height="1.2" fill="#6e6eff"/>
<circle cx="372.6" cy="66" r="1.25" fill="#1414ff"/>
<circle cx="375.7" cy="63.11" r="1.25" fill="#1414ff"/>
<circle cx="378.8" cy="69.22" r="1.25" fill="#1414ff"/>
<circle cx="381.9" cy="68.09" r="1.25" fill="#1414ff"/>
<circle cx="385" cy="68.41" r="1.25" fill="#1414ff"/>
<circle cx="388.1" cy="65.2" r="1.25" fill="#1414ff"/>
<circle cx="391.2" cy="64.07" r="1.25" fill="#1414ff"/>
<circle cx="394.3" cy="78.87" r="1.25" fill="#1414ff"/>
<circle cx="397.4" cy="63.11" r="1.25" fill="#1414ff"/>
<circle cx="400.5" cy="50.24" r="1.25" fill="#1414ff"/>
<circle cx="406.7" cy="77.1" r="1.25" fill="#1414ff"/>
<circle cx="409.8" cy="68.74" r="1.25" fill="#1414ff"/>
<circle cx="412.9" cy="68.41" r="1.25" fill="#1414ff"/>
<circle cx="416" cy="73.56" r="1.25" fill="#1414ff"/>
<circle cx="419.1" cy="58.77" r="1.25" fill="#1414ff"/>
<circle cx="422.2" cy="71.95" r="1.25" fill="#1414ff"/>
<circle cx="425.3" cy="68.09" r="1.25" fill="#1414ff"/>
<circle cx="428.4" cy="68.41" r="1.25" fill="#1414ff"/>
<circle cx="431.5" cy="66" r="1.25" fill="#1414ff"/>
<circle cx="434.6" cy="71.95" r="1.25" fill="#1414ff"/>
<path d="M442.6 70.24 L445.7 72.31 L448.8 62.69 L451.9 68.17 L455 70.39 L458.1 66.98 L461.2 63.88 L464.3 62.69 L467.4 64.47 L470.5 51.6 L476.7 89.32 L479.8 66.69 L482.9 64.47 L486 72.31 L489.1 66.69 L492.2 67.13 L495.3 63.14 L498.4 65.36 L501.5 64.47 L504.6 70.83" fill="none" stroke="#8080ff" stroke-width="0.6"/>
<rect x="442" y="59.61" width="1.2" height="1.2" fill="#6e6eff"/>
<rect x="442" y="79.55" width="1.2" height="1.2" fill="#6e6eff"/>
<rect x="445.1" y="63.88" width="1.2" height="1.2" fill="#6e6eff"/>
<rect x="445.1" y="78.6" width="1.2" height="1.2" fill="#6e6eff"/>
<rect x="448.2" y="57.04" width="1.2" height="1.2" fill="#6e6eff"/>
<rect x="448.2" y="69.39" width="1.2" height="1.2" fill="#6e6eff"/>
<rect x="451.3" y="58.49" width="1.2" height="1.2" fill="#6e6eff"/>
<rect x="451.3" y="75.37" width="1.2" height="1.2" fill="#6e6eff"/>
<rect x="454.4" y="62.7" width="1.2" height="1.2" fill="#6e6eff"/>
<rect x="454.4" y="71.51" width="1.2" height="1.2" fill="#6e6eff"/>
<rect x="457.5" y="52.06" width="1.2" height="1.2" fill="#6e6eff"/>
<rect x="457.5" y="79.55" width="1.2" height="1.2" fill="#6e6eff"/>
<rect x="460.6" y="58.49" width="1.2" height="1.2" fill="#6e6eff"/>
<rect x="460.6" y="68.3" width="1.2" height="1.2" fill="#6e6eff"/>
<rect x="463.7" y="55.27" width="1.2" height="1.2" fill="#6e6eff"/>
<rect x="463.7" y="67.17" width="1.2" height="1.2" fill="#6e6eff"/>
<rect x="466.8" y="58.49" width="1.2" height="1.2" fill="#6e6eff"/>
<rect x="466.8" y="69.26" width="1.2" height="1.2" fill="#6e6eff"/>
<rect x="469.9" y="45.62" width="1.2" height="1.2" fill="#6e6eff"/>
<rect x="469.9" y="53.18" width="1.2" height="1.2" fill="#6e6eff"/>
<rect x="476.1" y="83.33" width="1.2" height="1.2" fill="#6e6eff"/>
<rect x="476.1" y="97.56" width="1.2" height="1.2" fill="#6e6eff"/>
<rect x="479.2" y="60.74" width="1.2" height="1.2" fill="#6e6eff"/>
<rect x="479.2" y="74.21" width="1.2" height="1.2" fill="#6e6eff"/>
<rect x="482.3" y="59.61" width="1.2" height="1.2" fill="#6e6eff"/>
<rect x="482.3" y="67.17" width="1.2" height="1.2" fill="#6e6eff"/>
<rect x="485.4" y="63.65" width="1.2" height="1.2" fill="#6e6eff"/>
<rect x="485.4" y="75.69" width="1.2" height="1.2" fill="#6e6eff"/>
<rect x="488.5" y="60.74" width="1.2" height="1.2" fill="#6e6eff"/>
<rect x="488.5" y="67.17" width="1.2" height="1.2" fill="#6e6eff"/>
<rect x="491.6" y="55.91" width="1.2" height="1.2" fill="#6e6eff"/>
<rect x="491.6" y="75.69" width="1.2" height="1.2" fill="#6e6eff"/>
<rect x="494.7" y="55.91" width="1.2" height="1.2" fill="#6e6eff"/>
<rect x="494.7" y="66.04" width="1.2" height="1.2" fill="#6e6eff"/>
<rect x="497.8" y="57.63" width="1.2" height="1.2" fill="#6e6eff"/>
<rect x="497.8" y="72.19" width="1.2" height="1.2" fill="#6e6eff"/>
<rect x="500.9" y="57.52" width="1.2" height="1.2" fill="#6e6eff"/>
<rect x="500.9" y="69.26" width="1.2" height="1.2" fill="#6e6eff"/>
<rect x="504" y="64.92" width="1.2" height="1.2" fill="#6e6eff"/>
<rect x="504" y="76.82" width="1.2" height="1.2" fill="#6e6eff"/>
<circle cx="442.6" cy="70.5" r="1.25" fill="#1414ff"/>
<circle cx="445.7" cy="72.76" r="1.25" fill="#1414ff"/>
<circle cx="448.8" cy="62.3" r="1.25" fill="#1414ff"/>
<circle cx="451.9" cy="68.25" r="1.25" fill="#1414ff"/>
<circle cx="455" cy="70.66" r="1.25" fill="#1414ff"/>
<circle cx="458.1" cy="66.97" r="1.25" fill="#1414ff"/>
<circle cx="461.2" cy="63.59" r="1.25" fill="#1414ff"/>
<circle cx="464.3" cy="62.3" r="1.25" fill="#1414ff"/>
<circle cx="467.4" cy="64.23" r="1.25" fill="#1414ff"/>
<circle cx="470.5" cy="50.24" r="1.25" fill="#1414ff"/>
<circle cx="476.7" cy="91.25" r="1.25" fill="#1414ff"/>
<circle cx="479.8" cy="66.64" r="1.25" fill="#1414ff"/>
<circle cx="482.9" cy="64.23" r="1.25" fill="#1414ff"/>
<circle cx="486" cy="72.76" r="1.25" fill="#1414ff"/>
<circle cx="489.1" cy="66.64" r="1.25" fill="#1414ff"/>
<circle cx="492.2" cy="67.13" r="1.25" fill="#1414ff"/>
<circle cx="495.3" cy="62.79" r="1.25" fill="#1414ff"/>
<circle cx="498.4" cy="65.2" r="1.25" fill="#1414ff"/>
<circle cx="501.5" cy="64.23" r="1.25" fill="#1414ff"/>
<circle cx="504.6" cy="71.15" r="1.25" fill="#1414ff"/>
<path d="M566.8 29.5 V109.9 H598.1 M605.4 29.5 H636.8 V109.9 H605.4 M566.8 29.5 H598.1 M605.4 109.9 H636.8" fill="none" stroke="#b4b4b4" stroke-width="1"/>
<path d="M533.4 29.5 V109.9 M529.6 109.9 H533.4 M529.6 93.82 H533.4 M529.6 77.74 H533.4 M529.6 61.66 H533.4 M529.6 45.58 H533.4 M529.6 29.5 H533.4" fill="none" stroke="#3a3a3a" stroke-width="1"/>
<path d="M669.7 29.5 V109.9 M669.7 109.9 H673.5 M669.7 93.82 H673.5 M669.7 77.74 H673.5 M669.7 61.66 H673.5 M669.7 45.58 H673.5 M669.7 29.5 H673.5" fill="none" stroke="#3a3a3a" stroke-width="1"/>
<text x="676.7" y="111.8" font-size="4.5" fill="#333" stroke="#333" stroke-width="0.06">0.0</text>
<text x="676.7" y="95.72" font-size="4.5" fill="#333" stroke="#333" stroke-width="0.06">0.1</text>
<text x="676.7" y="79.64" font-size="4.5" fill="#333" stroke="#333" stroke-width="0.06">0.2</text>
<text x="676.7" y="63.56" font-size="4.5" fill="#333" stroke="#333" stroke-width="0.06">0.3</text>
<text x="676.7" y="47.48" font-size="4.5" fill="#333" stroke="#333" stroke-width="0.06">0.4</text>
<text x="676.7" y="31.4" font-size="4.5" fill="#333" stroke="#333" stroke-width="0.06">0.5</text>
<path d="M535.5 112.9 H598.2 M535.8 112.9 V116.3 M538.9 112.9 V116.3 M542 112.9 V116.3 M545.1 112.9 V116.3 M548.2 112.9 V116.3 M551.3 112.9 V116.3 M554.4 112.9 V116.3 M557.5 112.9 V116.3 M560.6 112.9 V116.3 M563.7 112.9 V116.3 M569.9 112.9 V116.3 M573 112.9 V116.3 M576.1 112.9 V116.3 M579.2 112.9 V116.3 M582.3 112.9 V116.3 M585.4 112.9 V116.3 M588.5 112.9 V116.3 M591.6 112.9 V116.3 M594.7 112.9 V116.3 M597.8 112.9 V116.3" fill="none" stroke="#3a3a3a" stroke-width="0.9"/>
<path d="M605.4 112.9 H667.6 M605.8 112.9 V116.3 M608.9 112.9 V116.3 M612 112.9 V116.3 M615.1 112.9 V116.3 M618.2 112.9 V116.3 M621.3 112.9 V116.3 M624.4 112.9 V116.3 M627.5 112.9 V116.3 M630.6 112.9 V116.3 M633.7 112.9 V116.3 M639.9 112.9 V116.3 M643 112.9 V116.3 M646.1 112.9 V116.3 M649.2 112.9 V116.3 M652.3 112.9 V116.3 M655.4 112.9 V116.3 M658.5 112.9 V116.3 M661.6 112.9 V116.3 M664.7 112.9 V116.3 M667.8 112.9 V116.3" fill="none" stroke="#3a3a3a" stroke-width="0.9"/>
<text x="566.8" y="26.1" text-anchor="middle" font-size="8" fill="#2a2a2a" stroke="#2a2a2a" stroke-width="0.3">C</text>
<text x="636.8" y="26.1" text-anchor="middle" font-size="8" fill="#2a2a2a" stroke="#2a2a2a" stroke-width="0.3">C</text>
<path d="M535.8 70.66 L538.9 76.29 L542 77.74 L545.1 74.36 L548.2 71.31 L551.3 75.33 L554.4 68.74 L557.5 68.74 L560.6 82.72 L563.7 84.82 L569.9 81.12 L573 75.33 L576.1 75.33 L579.2 80.31 L582.3 76.94 L585.4 66 L588.5 71.95 L591.6 75.33 L594.7 75.33 L597.8 67.45" fill="none" stroke="#a8f4a8" stroke-width="0.6"/>
<rect x="535.2" y="53.34" width="1.2" height="1.2" fill="#70f070"/>
<rect x="535.2" y="86.95" width="1.2" height="1.2" fill="#70f070"/>
<rect x="538.3" y="60.9" width="1.2" height="1.2" fill="#70f070"/>
<rect x="538.3" y="90.49" width="1.2" height="1.2" fill="#70f070"/>
<rect x="541.4" y="61.22" width="1.2" height="1.2" fill="#70f070"/>
<rect x="541.4" y="92.42" width="1.2" height="1.2" fill="#70f070"/>
<rect x="544.5" y="67.65" width="1.2" height="1.2" fill="#70f070"/>
<rect x="544.5" y="80.52" width="1.2" height="1.2" fill="#70f070"/>
<rect x="547.6" y="61.7" width="1.2" height="1.2" fill="#70f070"/>
<rect x="547.6" y="79.55" width="1.2" height="1.2" fill="#70f070"/>
<rect x="550.7" y="61.22" width="1.2" height="1.2" fill="#70f070"/>
<rect x="550.7" y="87.91" width="1.2" height="1.2" fill="#70f070"/>
<rect x="553.8" y="53.02" width="1.2" height="1.2" fill="#70f070"/>
<rect x="553.8" y="83.57" width="1.2" height="1.2" fill="#70f070"/>
<rect x="556.9" y="49.32" width="1.2" height="1.2" fill="#70f070"/>
<rect x="556.9" y="86.95" width="1.2" height="1.2" fill="#70f070"/>
<rect x="560" y="70.39" width="1.2" height="1.2" fill="#70f070"/>
<rect x="560" y="93.22" width="1.2" height="1.2" fill="#70f070"/>
<rect x="563.1" y="73.76" width="1.2" height="1.2" fill="#70f070"/>
<rect x="563.1" y="94.83" width="1.2" height="1.2" fill="#70f070"/>
<rect x="569.3" y="69.1" width="1.2" height="1.2" fill="#70f070"/>
<rect x="569.3" y="89.68" width="1.2" height="1.2" fill="#70f070"/>
<rect x="572.4" y="56.88" width="1.2" height="1.2" fill="#70f070"/>
<rect x="572.4" y="93.22" width="1.2" height="1.2" fill="#70f070"/>
<rect x="575.5" y="57.84" width="1.2" height="1.2" fill="#70f070"/>
<rect x="575.5" y="89.29" width="1.2" height="1.2" fill="#70f070"/>
<rect x="578.6" y="63.47" width="1.2" height="1.2" fill="#70f070"/>
<rect x="578.6" y="77.94" width="1.2" height="1.2" fill="#70f070"/>
<rect x="581.7" y="58.97" width="1.2" height="1.2" fill="#70f070"/>
<rect x="581.7" y="93.22" width="1.2" height="1.2" fill="#70f070"/>
<rect x="584.8" y="51.09" width="1.2" height="1.2" fill="#70f070"/>
<rect x="584.8" y="78.75" width="1.2" height="1.2" fill="#70f070"/>
<rect x="587.9" y="51.41" width="1.2" height="1.2" fill="#70f070"/>
<rect x="587.9" y="92.42" width="1.2" height="1.2" fill="#70f070"/>
<rect x="591" y="60.9" width="1.2" height="1.2" fill="#70f070"/>
<rect x="591" y="89.2" width="1.2" height="1.2" fill="#70f070"/>
<rect x="594.1" y="60.26" width="1.2" height="1.2" fill="#70f070"/>
<rect x="594.1" y="89.2" width="1.2" height="1.2" fill="#70f070"/>
<rect x="597.2" y="44.98" width="1.2" height="1.2" fill="#70f070"/>
<rect x="597.2" y="87.91" width="1.2" height="1.2" fill="#70f070"/>
<circle cx="535.8" cy="70.66" r="1.25" fill="#14f014"/>
<circle cx="538.9" cy="76.29" r="1.25" fill="#14f014"/>
<circle cx="542" cy="77.74" r="1.25" fill="#14f014"/>
<circle cx="545.1" cy="74.36" r="1.25" fill="#14f014"/>
<circle cx="548.2" cy="71.31" r="1.25" fill="#14f014"/>
<circle cx="551.3" cy="75.33" r="1.25" fill="#14f014"/>
<circle cx="554.4" cy="68.74" r="1.25" fill="#14f014"/>
<circle cx="557.5" cy="68.74" r="1.25" fill="#14f014"/>
<circle cx="560.6" cy="82.72" r="1.25" fill="#14f014"/>
<circle cx="563.7" cy="84.82" r="1.25" fill="#14f014"/>
<circle cx="569.9" cy="81.12" r="1.25" fill="#14f014"/>
<circle cx="573" cy="75.33" r="1.25" fill="#14f014"/>
<circle cx="576.1" cy="75.33" r="1.25" fill="#14f014"/>
<circle cx="579.2" cy="80.31" r="1.25" fill="#14f014"/>
<circle cx="582.3" cy="76.94" r="1.25" fill="#14f014"/>
<circle cx="585.4" cy="66" r="1.25" fill="#14f014"/>
<circle cx="588.5" cy="71.95" r="1.25" fill="#14f014"/>
<circle cx="591.6" cy="75.33" r="1.25" fill="#14f014"/>
<circle cx="594.7" cy="75.33" r="1.25" fill="#14f014"/>
<circle cx="597.8" cy="67.45" r="1.25" fill="#14f014"/>
<path d="M605.8 70.99 L608.9 68.09 L612 74.2 L615.1 72.92 L618.2 71.95 L621.3 78.38 L624.4 63.59 L627.5 75.17 L630.6 71.95 L633.7 72.27 L639.9 53.94 L643 68.74 L646.1 68.74 L649.2 75.65 L652.3 74.2 L655.4 74.2 L658.5 75.17 L661.6 68.74 L664.7 77.1 L667.8 72.76" fill="none" stroke="#a8f4a8" stroke-width="0.6"/>
<rect x="605.2" y="54.47" width="1.2" height="1.2" fill="#70f070"/>
<rect x="605.2" y="86.31" width="1.2" height="1.2" fill="#70f070"/>
<rect x="608.3" y="49.32" width="1.2" height="1.2" fill="#70f070"/>
<rect x="608.3" y="85.02" width="1.2" height="1.2" fill="#70f070"/>
<rect x="611.4" y="61.06" width="1.2" height="1.2" fill="#70f070"/>
<rect x="611.4" y="86.31" width="1.2" height="1.2" fill="#70f070"/>
<rect x="614.5" y="49.32" width="1.2" height="1.2" fill="#70f070"/>
<rect x="614.5" y="94.83" width="1.2" height="1.2" fill="#70f070"/>
<rect x="617.6" y="57.52" width="1.2" height="1.2" fill="#70f070"/>
<rect x="617.6" y="85.02" width="1.2" height="1.2" fill="#70f070"/>
<rect x="620.7" y="63.55" width="1.2" height="1.2" fill="#70f070"/>
<rect x="620.7" y="87.91" width="1.2" height="1.2" fill="#70f070"/>
<rect x="623.8" y="41.92" width="1.2" height="1.2" fill="#70f070"/>
<rect x="623.8" y="84.38" width="1.2" height="1.2" fill="#70f070"/>
<rect x="626.9" y="60.26" width="1.2" height="1.2" fill="#70f070"/>
<rect x="626.9" y="88.88" width="1.2" height="1.2" fill="#70f070"/>
<rect x="630" y="59.45" width="1.2" height="1.2" fill="#70f070"/>
<rect x="630" y="84.38" width="1.2" height="1.2" fill="#70f070"/>
<rect x="633.1" y="62.67" width="1.2" height="1.2" fill="#70f070"/>
<rect x="633.1" y="81" width="1.2" height="1.2" fill="#70f070"/>
<rect x="639.3" y="36.98" width="1.2" height="1.2" fill="#70f070"/>
<rect x="639.3" y="82.12" width="1.2" height="1.2" fill="#70f070"/>
<rect x="642.4" y="53.02" width="1.2" height="1.2" fill="#70f070"/>
<rect x="642.4" y="83.57" width="1.2" height="1.2" fill="#70f070"/>
<rect x="645.5" y="52.7" width="1.2" height="1.2" fill="#70f070"/>
<rect x="645.5" y="84.38" width="1.2" height="1.2" fill="#70f070"/>
<rect x="648.6" y="62.67" width="1.2" height="1.2" fill="#70f070"/>
<rect x="648.6" y="87.91" width="1.2" height="1.2" fill="#70f070"/>
<rect x="651.7" y="59.45" width="1.2" height="1.2" fill="#70f070"/>
<rect x="651.7" y="87.91" width="1.2" height="1.2" fill="#70f070"/>
<rect x="654.8" y="53.02" width="1.2" height="1.2" fill="#70f070"/>
<rect x="654.8" y="94.83" width="1.2" height="1.2" fill="#70f070"/>
<rect x="657.9" y="60.26" width="1.2" height="1.2" fill="#70f070"/>
<rect x="657.9" y="89.68" width="1.2" height="1.2" fill="#70f070"/>
<rect x="661" y="52.22" width="1.2" height="1.2" fill="#70f070"/>
<rect x="661" y="84.38" width="1.2" height="1.2" fill="#70f070"/>
<rect x="664.1" y="57.04" width="1.2" height="1.2" fill="#70f070"/>
<rect x="664.1" y="86.31" width="1.2" height="1.2" fill="#70f070"/>
<rect x="667.2" y="56.24" width="1.2" height="1.2" fill="#70f070"/>
<rect x="667.2" y="88.24" width="1.2" height="1.2" fill="#70f070"/>
<circle cx="605.8" cy="70.99" r="1.25" fill="#14f014"/>
<circle cx="608.9" cy="68.09" r="1.25" fill="#14f014"/>
<circle cx="612" cy="74.2" r="1.25" fill="#14f014"/>
<circle cx="615.1" cy="72.92" r="1.25" fill="#14f014"/>
<circle cx="618.2" cy="71.95" r="1.25" fill="#14f014"/>
<circle cx="621.3" cy="78.38" r="1.25" fill="#14f014"/>
<circle cx="624.4" cy="63.59" r="1.25" fill="#14f014"/>
<circle cx="627.5" cy="75.17" r="1.25" fill="#14f014"/>
<circle cx="630.6" cy="71.95" r="1.25" fill="#14f014"/>
<circle cx="633.7" cy="72.27" r="1.25" fill="#14f014"/>
<circle cx="639.9" cy="53.94" r="1.25" fill="#14f014"/>
<circle cx="643" cy="68.74" r="1.25" fill="#14f014"/>
<circle cx="646.1" cy="68.74" r="1.25" fill="#14f014"/>
<circle cx="649.2" cy="75.65" r="1.25" fill="#14f014"/>
<circle cx="652.3" cy="74.2" r="1.25" fill="#14f014"/>
<circle cx="655.4" cy="74.2" r="1.25" fill="#14f014"/>
<circle cx="658.5" cy="75.17" r="1.25" fill="#14f014"/>
<circle cx="661.6" cy="68.74" r="1.25" fill="#14f014"/>
<circle cx="664.7" cy="77.1" r="1.25" fill="#14f014"/>
<circle cx="667.8" cy="72.76" r="1.25" fill="#14f014"/>
<path d="M403.6 129.4 V209.6 H434.9 M442.2 129.4 H473.6 V209.6 H442.2 M403.6 129.4 H434.9 M442.2 209.6 H473.6" fill="none" stroke="#b4b4b4" stroke-width="1"/>
<path d="M370.6 129.4 V209.6 M366.8 209.6 H370.6 M366.8 193.56 H370.6 M366.8 177.52 H370.6 M366.8 161.48 H370.6 M366.8 145.44 H370.6 M366.8 129.4 H370.6" fill="none" stroke="#3a3a3a" stroke-width="1"/>
<path d="M506.7 129.4 V209.6 M506.7 209.6 H510.5 M506.7 193.56 H510.5 M506.7 177.52 H510.5 M506.7 161.48 H510.5 M506.7 145.44 H510.5 M506.7 129.4 H510.5" fill="none" stroke="#3a3a3a" stroke-width="1"/>
<text x="364" y="211.5" text-anchor="end" font-size="4.5" fill="#333" stroke="#333" stroke-width="0.06">0.0</text>
<text x="364" y="195.46" text-anchor="end" font-size="4.5" fill="#333" stroke="#333" stroke-width="0.06">0.1</text>
<text x="364" y="179.42" text-anchor="end" font-size="4.5" fill="#333" stroke="#333" stroke-width="0.06">0.2</text>
<text x="364" y="163.38" text-anchor="end" font-size="4.5" fill="#333" stroke="#333" stroke-width="0.06">0.3</text>
<text x="364" y="147.34" text-anchor="end" font-size="4.5" fill="#333" stroke="#333" stroke-width="0.06">0.4</text>
<text x="364" y="131.3" text-anchor="end" font-size="4.5" fill="#333" stroke="#333" stroke-width="0.06">0.5</text>
<text transform="translate(352.3 169.2) rotate(-90)" text-anchor="middle" font-size="4.9" fill="#2a2a2a" stroke="#2a2a2a" stroke-width="0.06">Frequency</text>
<path d="M372.3 212.5 H435 M372.6 212.5 V215.9 M375.7 212.5 V215.9 M378.8 212.5 V215.9 M381.9 212.5 V215.9 M385 212.5 V215.9 M388.1 212.5 V215.9 M391.2 212.5 V215.9 M394.3 212.5 V215.9 M397.4 212.5 V215.9 M400.5 212.5 V215.9 M406.7 212.5 V215.9 M409.8 212.5 V215.9 M412.9 212.5 V215.9 M416 212.5 V215.9 M419.1 212.5 V215.9 M422.2 212.5 V215.9 M425.3 212.5 V215.9 M428.4 212.5 V215.9 M431.5 212.5 V215.9 M434.6 212.5 V215.9" fill="none" stroke="#3a3a3a" stroke-width="0.9"/>
<text transform="translate(374.1 219) rotate(-90)" text-anchor="end" font-size="4.2" fill="#222" stroke="#222" stroke-width="0.12">-10</text>
<text transform="translate(380.3 219) rotate(-90)" text-anchor="end" font-size="4.2" fill="#222" stroke="#222" stroke-width="0.12">-8</text>
<text transform="translate(386.5 219) rotate(-90)" text-anchor="end" font-size="4.2" fill="#222" stroke="#222" stroke-width="0.12">-6</text>
<text transform="translate(392.7 219) rotate(-90)" text-anchor="end" font-size="4.2" fill="#222" stroke="#222" stroke-width="0.12">-4</text>
<text transform="translate(398.9 219) rotate(-90)" text-anchor="end" font-size="4.2" fill="#222" stroke="#222" stroke-width="0.12">-2</text>
<text transform="translate(408.2 219) rotate(-90)" text-anchor="end" font-size="4.2" fill="#222" stroke="#222" stroke-width="0.12">1</text>
<text transform="translate(414.4 219) rotate(-90)" text-anchor="end" font-size="4.2" fill="#222" stroke="#222" stroke-width="0.12">3</text>
<text transform="translate(420.6 219) rotate(-90)" text-anchor="end" font-size="4.2" fill="#222" stroke="#222" stroke-width="0.12">5</text>
<text transform="translate(426.8 219) rotate(-90)" text-anchor="end" font-size="4.2" fill="#222" stroke="#222" stroke-width="0.12">7</text>
<text transform="translate(433 219) rotate(-90)" text-anchor="end" font-size="4.2" fill="#222" stroke="#222" stroke-width="0.12">9</text>
<path d="M442.2 212.5 H504.4 M442.6 212.5 V215.9 M445.7 212.5 V215.9 M448.8 212.5 V215.9 M451.9 212.5 V215.9 M455 212.5 V215.9 M458.1 212.5 V215.9 M461.2 212.5 V215.9 M464.3 212.5 V215.9 M467.4 212.5 V215.9 M470.5 212.5 V215.9 M476.7 212.5 V215.9 M479.8 212.5 V215.9 M482.9 212.5 V215.9 M486 212.5 V215.9 M489.1 212.5 V215.9 M492.2 212.5 V215.9 M495.3 212.5 V215.9 M498.4 212.5 V215.9 M501.5 212.5 V215.9 M504.6 212.5 V215.9" fill="none" stroke="#3a3a3a" stroke-width="0.9"/>
<text transform="translate(444.1 219) rotate(-90)" text-anchor="end" font-size="4.2" fill="#222" stroke="#222" stroke-width="0.12">-10</text>
<text transform="translate(450.3 219) rotate(-90)" text-anchor="end" font-size="4.2" fill="#222" stroke="#222" stroke-width="0.12">-8</text>
<text transform="translate(456.5 219) rotate(-90)" text-anchor="end" font-size="4.2" fill="#222" stroke="#222" stroke-width="0.12">-6</text>
<text transform="translate(462.7 219) rotate(-90)" text-anchor="end" font-size="4.2" fill="#222" stroke="#222" stroke-width="0.12">-4</text>
<text transform="translate(468.9 219) rotate(-90)" text-anchor="end" font-size="4.2" fill="#222" stroke="#222" stroke-width="0.12">-2</text>
<text transform="translate(478.2 219) rotate(-90)" text-anchor="end" font-size="4.2" fill="#222" stroke="#222" stroke-width="0.12">1</text>
<text transform="translate(484.4 219) rotate(-90)" text-anchor="end" font-size="4.2" fill="#222" stroke="#222" stroke-width="0.12">3</text>
<text transform="translate(490.6 219) rotate(-90)" text-anchor="end" font-size="4.2" fill="#222" stroke="#222" stroke-width="0.12">5</text>
<text transform="translate(496.8 219) rotate(-90)" text-anchor="end" font-size="4.2" fill="#222" stroke="#222" stroke-width="0.12">7</text>
<text transform="translate(503 219) rotate(-90)" text-anchor="end" font-size="4.2" fill="#222" stroke="#222" stroke-width="0.12">9</text>
<text x="403.6" y="126" text-anchor="middle" font-size="8" fill="#2a2a2a" stroke="#2a2a2a" stroke-width="0.3">G</text>
<text x="473.6" y="126" text-anchor="middle" font-size="8" fill="#2a2a2a" stroke="#2a2a2a" stroke-width="0.3">G</text>
<path d="M372.6 172.55 L375.7 176.88 L378.8 168.7 L381.9 174.63 L385 173.83 L388.1 173.83 L391.2 175.27 L394.3 168.22 L397.4 168.22 L400.5 153.62 L406.7 172.07 L409.8 172.07 L412.9 174.63 L416 163.24 L419.1 178 L422.2 172.07 L425.3 172.55 L428.4 173.83 L431.5 166.93 L434.6 170.14" fill="none" stroke="#a0a0a0" stroke-width="0.45"/>
<rect x="372" y="155.75" width="1.2" height="1.2" fill="#707070"/>
<rect x="372" y="187.99" width="1.2" height="1.2" fill="#707070"/>
<rect x="375.1" y="156.39" width="1.2" height="1.2" fill="#707070"/>
<rect x="375.1" y="191.55" width="1.2" height="1.2" fill="#707070"/>
<rect x="378.2" y="151.58" width="1.2" height="1.2" fill="#707070"/>
<rect x="378.2" y="183.34" width="1.2" height="1.2" fill="#707070"/>
<rect x="381.3" y="160.08" width="1.2" height="1.2" fill="#707070"/>
<rect x="381.3" y="189.11" width="1.2" height="1.2" fill="#707070"/>
<rect x="384.4" y="152.86" width="1.2" height="1.2" fill="#707070"/>
<rect x="384.4" y="193.92" width="1.2" height="1.2" fill="#707070"/>
<rect x="387.5" y="159.28" width="1.2" height="1.2" fill="#707070"/>
<rect x="387.5" y="187.99" width="1.2" height="1.2" fill="#707070"/>
<rect x="390.6" y="163.29" width="1.2" height="1.2" fill="#707070"/>
<rect x="390.6" y="187.99" width="1.2" height="1.2" fill="#707070"/>
<rect x="393.7" y="152.86" width="1.2" height="1.2" fill="#707070"/>
<rect x="393.7" y="183.34" width="1.2" height="1.2" fill="#707070"/>
<rect x="396.8" y="153.66" width="1.2" height="1.2" fill="#707070"/>
<rect x="396.8" y="182.05" width="1.2" height="1.2" fill="#707070"/>
<rect x="399.9" y="141.05" width="1.2" height="1.2" fill="#707070"/>
<rect x="399.9" y="182.05" width="1.2" height="1.2" fill="#707070"/>
<rect x="406.1" y="162.48" width="1.2" height="1.2" fill="#707070"/>
<rect x="406.1" y="180.13" width="1.2" height="1.2" fill="#707070"/>
<rect x="409.2" y="158.47" width="1.2" height="1.2" fill="#707070"/>
<rect x="409.2" y="183.82" width="1.2" height="1.2" fill="#707070"/>
<rect x="412.3" y="160.08" width="1.2" height="1.2" fill="#707070"/>
<rect x="412.3" y="188.47" width="1.2" height="1.2" fill="#707070"/>
<rect x="415.4" y="141.63" width="1.2" height="1.2" fill="#707070"/>
<rect x="415.4" y="183.82" width="1.2" height="1.2" fill="#707070"/>
<rect x="418.5" y="164.81" width="1.2" height="1.2" fill="#707070"/>
<rect x="418.5" y="187.99" width="1.2" height="1.2" fill="#707070"/>
<rect x="421.6" y="157.99" width="1.2" height="1.2" fill="#707070"/>
<rect x="421.6" y="184.14" width="1.2" height="1.2" fill="#707070"/>
<rect x="424.7" y="149.33" width="1.2" height="1.2" fill="#707070"/>
<rect x="424.7" y="193.92" width="1.2" height="1.2" fill="#707070"/>
<rect x="427.8" y="160.08" width="1.2" height="1.2" fill="#707070"/>
<rect x="427.8" y="185.58" width="1.2" height="1.2" fill="#707070"/>
<rect x="430.9" y="149.33" width="1.2" height="1.2" fill="#707070"/>
<rect x="430.9" y="183.82" width="1.2" height="1.2" fill="#707070"/>
<rect x="434" y="154.46" width="1.2" height="1.2" fill="#707070"/>
<rect x="434" y="184.62" width="1.2" height="1.2" fill="#707070"/>
<circle cx="372.6" cy="172.55" r="1.25" fill="#141414"/>
<circle cx="375.7" cy="176.88" r="1.25" fill="#141414"/>
<circle cx="378.8" cy="168.7" r="1.25" fill="#141414"/>
<circle cx="381.9" cy="174.63" r="1.25" fill="#141414"/>
<circle cx="385" cy="173.83" r="1.25" fill="#141414"/>
<circle cx="388.1" cy="173.83" r="1.25" fill="#141414"/>
<circle cx="391.2" cy="175.27" r="1.25" fill="#141414"/>
<circle cx="394.3" cy="168.22" r="1.25" fill="#141414"/>
<circle cx="397.4" cy="168.22" r="1.25" fill="#141414"/>
<circle cx="400.5" cy="153.62" r="1.25" fill="#141414"/>
<circle cx="406.7" cy="172.07" r="1.25" fill="#141414"/>
<circle cx="409.8" cy="172.07" r="1.25" fill="#141414"/>
<circle cx="412.9" cy="174.63" r="1.25" fill="#141414"/>
<circle cx="416" cy="163.24" r="1.25" fill="#141414"/>
<circle cx="419.1" cy="178" r="1.25" fill="#141414"/>
<circle cx="422.2" cy="172.07" r="1.25" fill="#141414"/>
<circle cx="425.3" cy="172.55" r="1.25" fill="#141414"/>
<circle cx="428.4" cy="173.83" r="1.25" fill="#141414"/>
<circle cx="431.5" cy="166.93" r="1.25" fill="#141414"/>
<circle cx="434.6" cy="170.14" r="1.25" fill="#141414"/>
<path d="M442.6 166.93 L445.7 173.83 L448.8 175.27 L451.9 171.42 L455 166.13 L458.1 175.6 L461.2 179.77 L464.3 174.31 L467.4 175.27 L470.5 180.89 L476.7 184.42 L479.8 182.49 L482.9 167.9 L486 168.22 L489.1 174.31 L492.2 171.42 L495.3 174.31 L498.4 177.04 L501.5 175.6 L504.6 170.46" fill="none" stroke="#a0a0a0" stroke-width="0.45"/>
<rect x="442" y="145.64" width="1.2" height="1.2" fill="#707070"/>
<rect x="442" y="187.83" width="1.2" height="1.2" fill="#707070"/>
<rect x="445.1" y="160.88" width="1.2" height="1.2" fill="#707070"/>
<rect x="445.1" y="188.79" width="1.2" height="1.2" fill="#707070"/>
<rect x="448.2" y="163.29" width="1.2" height="1.2" fill="#707070"/>
<rect x="448.2" y="188.79" width="1.2" height="1.2" fill="#707070"/>
<rect x="451.3" y="150.29" width="1.2" height="1.2" fill="#707070"/>
<rect x="451.3" y="192.16" width="1.2" height="1.2" fill="#707070"/>
<rect x="454.4" y="152.86" width="1.2" height="1.2" fill="#707070"/>
<rect x="454.4" y="179.01" width="1.2" height="1.2" fill="#707070"/>
<rect x="457.5" y="157.67" width="1.2" height="1.2" fill="#707070"/>
<rect x="457.5" y="192.64" width="1.2" height="1.2" fill="#707070"/>
<rect x="460.6" y="163.13" width="1.2" height="1.2" fill="#707070"/>
<rect x="460.6" y="192.16" width="1.2" height="1.2" fill="#707070"/>
<rect x="463.7" y="156.55" width="1.2" height="1.2" fill="#707070"/>
<rect x="463.7" y="192.16" width="1.2" height="1.2" fill="#707070"/>
<rect x="466.8" y="157.35" width="1.2" height="1.2" fill="#707070"/>
<rect x="466.8" y="192.64" width="1.2" height="1.2" fill="#707070"/>
<rect x="469.9" y="171.31" width="1.2" height="1.2" fill="#707070"/>
<rect x="469.9" y="189.43" width="1.2" height="1.2" fill="#707070"/>
<rect x="476.1" y="173.71" width="1.2" height="1.2" fill="#707070"/>
<rect x="476.1" y="193.92" width="1.2" height="1.2" fill="#707070"/>
<rect x="479.2" y="167.56" width="1.2" height="1.2" fill="#707070"/>
<rect x="479.2" y="192.26" width="1.2" height="1.2" fill="#707070"/>
<rect x="482.3" y="148.05" width="1.2" height="1.2" fill="#707070"/>
<rect x="482.3" y="185.58" width="1.2" height="1.2" fill="#707070"/>
<rect x="485.4" y="152.54" width="1.2" height="1.2" fill="#707070"/>
<rect x="485.4" y="182.37" width="1.2" height="1.2" fill="#707070"/>
<rect x="488.5" y="160.08" width="1.2" height="1.2" fill="#707070"/>
<rect x="488.5" y="187.83" width="1.2" height="1.2" fill="#707070"/>
<rect x="491.6" y="162.48" width="1.2" height="1.2" fill="#707070"/>
<rect x="491.6" y="178.52" width="1.2" height="1.2" fill="#707070"/>
<rect x="494.7" y="168.1" width="1.2" height="1.2" fill="#707070"/>
<rect x="494.7" y="179.65" width="1.2" height="1.2" fill="#707070"/>
<rect x="497.8" y="161.2" width="1.2" height="1.2" fill="#707070"/>
<rect x="497.8" y="192.16" width="1.2" height="1.2" fill="#707070"/>
<rect x="500.9" y="160.08" width="1.2" height="1.2" fill="#707070"/>
<rect x="500.9" y="190.07" width="1.2" height="1.2" fill="#707070"/>
<rect x="504" y="152.86" width="1.2" height="1.2" fill="#707070"/>
<rect x="504" y="187.35" width="1.2" height="1.2" fill="#707070"/>
<circle cx="442.6" cy="166.93" r="1.25" fill="#141414"/>
<circle cx="445.7" cy="173.83" r="1.25" fill="#141414"/>
<circle cx="448.8" cy="175.27" r="1.25" fill="#141414"/>
<circle cx="451.9" cy="171.42" r="1.25" fill="#141414"/>
<circle cx="455" cy="166.13" r="1.25" fill="#141414"/>
<circle cx="458.1" cy="175.6" r="1.25" fill="#141414"/>
<circle cx="461.2" cy="179.77" r="1.25" fill="#141414"/>
<circle cx="464.3" cy="174.31" r="1.25" fill="#141414"/>
<circle cx="467.4" cy="175.27" r="1.25" fill="#141414"/>
<circle cx="470.5" cy="180.89" r="1.25" fill="#141414"/>
<circle cx="476.7" cy="184.42" r="1.25" fill="#141414"/>
<circle cx="479.8" cy="182.49" r="1.25" fill="#141414"/>
<circle cx="482.9" cy="167.9" r="1.25" fill="#141414"/>
<circle cx="486" cy="168.22" r="1.25" fill="#141414"/>
<circle cx="489.1" cy="174.31" r="1.25" fill="#141414"/>
<circle cx="492.2" cy="171.42" r="1.25" fill="#141414"/>
<circle cx="495.3" cy="174.31" r="1.25" fill="#141414"/>
<circle cx="498.4" cy="177.04" r="1.25" fill="#141414"/>
<circle cx="501.5" cy="175.6" r="1.25" fill="#141414"/>
<circle cx="504.6" cy="170.46" r="1.25" fill="#141414"/>
<path d="M566.8 129.4 V209.6 H598.1 M605.4 129.4 H636.8 V209.6 H605.4 M566.8 129.4 H598.1 M605.4 209.6 H636.8" fill="none" stroke="#b4b4b4" stroke-width="1"/>
<path d="M533.4 129.4 V209.6 M529.6 209.6 H533.4 M529.6 193.56 H533.4 M529.6 177.52 H533.4 M529.6 161.48 H533.4 M529.6 145.44 H533.4 M529.6 129.4 H533.4" fill="none" stroke="#3a3a3a" stroke-width="1"/>
<path d="M669.7 129.4 V209.6 M669.7 209.6 H673.5 M669.7 193.56 H673.5 M669.7 177.52 H673.5 M669.7 161.48 H673.5 M669.7 145.44 H673.5 M669.7 129.4 H673.5" fill="none" stroke="#3a3a3a" stroke-width="1"/>
<text x="676.7" y="211.5" font-size="4.5" fill="#333" stroke="#333" stroke-width="0.06">0.0</text>
<text x="676.7" y="195.46" font-size="4.5" fill="#333" stroke="#333" stroke-width="0.06">0.1</text>
<text x="676.7" y="179.42" font-size="4.5" fill="#333" stroke="#333" stroke-width="0.06">0.2</text>
<text x="676.7" y="163.38" font-size="4.5" fill="#333" stroke="#333" stroke-width="0.06">0.3</text>
<text x="676.7" y="147.34" font-size="4.5" fill="#333" stroke="#333" stroke-width="0.06">0.4</text>
<text x="676.7" y="131.3" font-size="4.5" fill="#333" stroke="#333" stroke-width="0.06">0.5</text>
<path d="M535.5 212.5 H598.2 M535.8 212.5 V215.9 M538.9 212.5 V215.9 M542 212.5 V215.9 M545.1 212.5 V215.9 M548.2 212.5 V215.9 M551.3 212.5 V215.9 M554.4 212.5 V215.9 M557.5 212.5 V215.9 M560.6 212.5 V215.9 M563.7 212.5 V215.9 M569.9 212.5 V215.9 M573 212.5 V215.9 M576.1 212.5 V215.9 M579.2 212.5 V215.9 M582.3 212.5 V215.9 M585.4 212.5 V215.9 M588.5 212.5 V215.9 M591.6 212.5 V215.9 M594.7 212.5 V215.9 M597.8 212.5 V215.9" fill="none" stroke="#3a3a3a" stroke-width="0.9"/>
<text transform="translate(537.3 219) rotate(-90)" text-anchor="end" font-size="4.2" fill="#222" stroke="#222" stroke-width="0.12">-10</text>
<text transform="translate(543.5 219) rotate(-90)" text-anchor="end" font-size="4.2" fill="#222" stroke="#222" stroke-width="0.12">-8</text>
<text transform="translate(549.7 219) rotate(-90)" text-anchor="end" font-size="4.2" fill="#222" stroke="#222" stroke-width="0.12">-6</text>
<text transform="translate(555.9 219) rotate(-90)" text-anchor="end" font-size="4.2" fill="#222" stroke="#222" stroke-width="0.12">-4</text>
<text transform="translate(562.1 219) rotate(-90)" text-anchor="end" font-size="4.2" fill="#222" stroke="#222" stroke-width="0.12">-2</text>
<text transform="translate(571.4 219) rotate(-90)" text-anchor="end" font-size="4.2" fill="#222" stroke="#222" stroke-width="0.12">1</text>
<text transform="translate(577.6 219) rotate(-90)" text-anchor="end" font-size="4.2" fill="#222" stroke="#222" stroke-width="0.12">3</text>
<text transform="translate(583.8 219) rotate(-90)" text-anchor="end" font-size="4.2" fill="#222" stroke="#222" stroke-width="0.12">5</text>
<text transform="translate(590 219) rotate(-90)" text-anchor="end" font-size="4.2" fill="#222" stroke="#222" stroke-width="0.12">7</text>
<text transform="translate(596.2 219) rotate(-90)" text-anchor="end" font-size="4.2" fill="#222" stroke="#222" stroke-width="0.12">9</text>
<path d="M605.4 212.5 H667.6 M605.8 212.5 V215.9 M608.9 212.5 V215.9 M612 212.5 V215.9 M615.1 212.5 V215.9 M618.2 212.5 V215.9 M621.3 212.5 V215.9 M624.4 212.5 V215.9 M627.5 212.5 V215.9 M630.6 212.5 V215.9 M633.7 212.5 V215.9 M639.9 212.5 V215.9 M643 212.5 V215.9 M646.1 212.5 V215.9 M649.2 212.5 V215.9 M652.3 212.5 V215.9 M655.4 212.5 V215.9 M658.5 212.5 V215.9 M661.6 212.5 V215.9 M664.7 212.5 V215.9 M667.8 212.5 V215.9" fill="none" stroke="#3a3a3a" stroke-width="0.9"/>
<text transform="translate(607.3 219) rotate(-90)" text-anchor="end" font-size="4.2" fill="#222" stroke="#222" stroke-width="0.12">-10</text>
<text transform="translate(613.5 219) rotate(-90)" text-anchor="end" font-size="4.2" fill="#222" stroke="#222" stroke-width="0.12">-8</text>
<text transform="translate(619.7 219) rotate(-90)" text-anchor="end" font-size="4.2" fill="#222" stroke="#222" stroke-width="0.12">-6</text>
<text transform="translate(625.9 219) rotate(-90)" text-anchor="end" font-size="4.2" fill="#222" stroke="#222" stroke-width="0.12">-4</text>
<text transform="translate(632.1 219) rotate(-90)" text-anchor="end" font-size="4.2" fill="#222" stroke="#222" stroke-width="0.12">-2</text>
<text transform="translate(641.4 219) rotate(-90)" text-anchor="end" font-size="4.2" fill="#222" stroke="#222" stroke-width="0.12">1</text>
<text transform="translate(647.6 219) rotate(-90)" text-anchor="end" font-size="4.2" fill="#222" stroke="#222" stroke-width="0.12">3</text>
<text transform="translate(653.8 219) rotate(-90)" text-anchor="end" font-size="4.2" fill="#222" stroke="#222" stroke-width="0.12">5</text>
<text transform="translate(660 219) rotate(-90)" text-anchor="end" font-size="4.2" fill="#222" stroke="#222" stroke-width="0.12">7</text>
<text transform="translate(666.2 219) rotate(-90)" text-anchor="end" font-size="4.2" fill="#222" stroke="#222" stroke-width="0.12">9</text>
<text x="566.8" y="126" text-anchor="middle" font-size="8" fill="#2a2a2a" stroke="#2a2a2a" stroke-width="0.3">T</text>
<text x="636.8" y="126" text-anchor="middle" font-size="8" fill="#2a2a2a" stroke="#2a2a2a" stroke-width="0.3">T</text>
<path d="M535.8 170.32 L538.9 164.27 L542 165.15 L545.1 163.09 L548.2 166.48 L551.3 166.04 L554.4 171.65 L557.5 164.27 L560.6 166.04 L563.7 189.36 L569.9 151.28 L573 164.27 L576.1 161.91 L579.2 163.09 L582.3 166.48 L585.4 170.32 L588.5 167.81 L591.6 162.79 L594.7 171.65 L597.8 170.32" fill="none" stroke="#ff7a7a" stroke-width="0.6"/>
<rect x="535.2" y="162.64" width="1.2" height="1.2" fill="#ff7070"/>
<rect x="535.2" y="176.44" width="1.2" height="1.2" fill="#ff7070"/>
<rect x="538.3" y="156.87" width="1.2" height="1.2" fill="#ff7070"/>
<rect x="538.3" y="169.06" width="1.2" height="1.2" fill="#ff7070"/>
<rect x="541.4" y="160.24" width="1.2" height="1.2" fill="#ff7070"/>
<rect x="541.4" y="168.26" width="1.2" height="1.2" fill="#ff7070"/>
<rect x="544.5" y="155.91" width="1.2" height="1.2" fill="#ff7070"/>
<rect x="544.5" y="167.78" width="1.2" height="1.2" fill="#ff7070"/>
<rect x="547.6" y="156.23" width="1.2" height="1.2" fill="#ff7070"/>
<rect x="547.6" y="175" width="1.2" height="1.2" fill="#ff7070"/>
<rect x="550.7" y="159.92" width="1.2" height="1.2" fill="#ff7070"/>
<rect x="550.7" y="169.7" width="1.2" height="1.2" fill="#ff7070"/>
<rect x="553.8" y="166.33" width="1.2" height="1.2" fill="#ff7070"/>
<rect x="553.8" y="175" width="1.2" height="1.2" fill="#ff7070"/>
<rect x="556.9" y="159.6" width="1.2" height="1.2" fill="#ff7070"/>
<rect x="556.9" y="166.33" width="1.2" height="1.2" fill="#ff7070"/>
<rect x="560" y="161.84" width="1.2" height="1.2" fill="#ff7070"/>
<rect x="560" y="169.06" width="1.2" height="1.2" fill="#ff7070"/>
<rect x="563.1" y="184.57" width="1.2" height="1.2" fill="#ff7070"/>
<rect x="563.1" y="192.96" width="1.2" height="1.2" fill="#ff7070"/>
<rect x="569.3" y="144.84" width="1.2" height="1.2" fill="#ff7070"/>
<rect x="569.3" y="154.63" width="1.2" height="1.2" fill="#ff7070"/>
<rect x="572.4" y="157.19" width="1.2" height="1.2" fill="#ff7070"/>
<rect x="572.4" y="169.06" width="1.2" height="1.2" fill="#ff7070"/>
<rect x="575.5" y="154.95" width="1.2" height="1.2" fill="#ff7070"/>
<rect x="575.5" y="166.01" width="1.2" height="1.2" fill="#ff7070"/>
<rect x="578.6" y="158.15" width="1.2" height="1.2" fill="#ff7070"/>
<rect x="578.6" y="165.85" width="1.2" height="1.2" fill="#ff7070"/>
<rect x="581.7" y="152.22" width="1.2" height="1.2" fill="#ff7070"/>
<rect x="581.7" y="178.36" width="1.2" height="1.2" fill="#ff7070"/>
<rect x="584.8" y="163.61" width="1.2" height="1.2" fill="#ff7070"/>
<rect x="584.8" y="171.47" width="1.2" height="1.2" fill="#ff7070"/>
<rect x="587.9" y="158.15" width="1.2" height="1.2" fill="#ff7070"/>
<rect x="587.9" y="175" width="1.2" height="1.2" fill="#ff7070"/>
<rect x="591" y="156.87" width="1.2" height="1.2" fill="#ff7070"/>
<rect x="591" y="166.33" width="1.2" height="1.2" fill="#ff7070"/>
<rect x="594.1" y="167.3" width="1.2" height="1.2" fill="#ff7070"/>
<rect x="594.1" y="171.95" width="1.2" height="1.2" fill="#ff7070"/>
<rect x="597.2" y="159.6" width="1.2" height="1.2" fill="#ff7070"/>
<rect x="597.2" y="179.81" width="1.2" height="1.2" fill="#ff7070"/>
<circle cx="535.8" cy="170.62" r="1.25" fill="#ff1414"/>
<circle cx="538.9" cy="164.05" r="1.25" fill="#ff1414"/>
<circle cx="542" cy="165.01" r="1.25" fill="#ff1414"/>
<circle cx="545.1" cy="162.76" r="1.25" fill="#ff1414"/>
<circle cx="548.2" cy="166.45" r="1.25" fill="#ff1414"/>
<circle cx="551.3" cy="165.97" r="1.25" fill="#ff1414"/>
<circle cx="554.4" cy="172.07" r="1.25" fill="#ff1414"/>
<circle cx="557.5" cy="164.05" r="1.25" fill="#ff1414"/>
<circle cx="560.6" cy="165.97" r="1.25" fill="#ff1414"/>
<circle cx="563.7" cy="191.31" r="1.25" fill="#ff1414"/>
<circle cx="569.9" cy="149.93" r="1.25" fill="#ff1414"/>
<circle cx="573" cy="164.05" r="1.25" fill="#ff1414"/>
<circle cx="576.1" cy="161.48" r="1.25" fill="#ff1414"/>
<circle cx="579.2" cy="162.76" r="1.25" fill="#ff1414"/>
<circle cx="582.3" cy="166.45" r="1.25" fill="#ff1414"/>
<circle cx="585.4" cy="170.62" r="1.25" fill="#ff1414"/>
<circle cx="588.5" cy="167.9" r="1.25" fill="#ff1414"/>
<circle cx="591.6" cy="162.44" r="1.25" fill="#ff1414"/>
<circle cx="594.7" cy="172.07" r="1.25" fill="#ff1414"/>
<circle cx="597.8" cy="170.62" r="1.25" fill="#ff1414"/>
<path d="M605.8 170.63 L608.9 165.32 L612 168.13 L615.1 167.68 L618.2 170.63 L621.3 159.27 L624.4 172.7 L627.5 168.13 L630.6 168.13 L633.7 176.09 L639.9 151.3 L643 163.11 L646.1 177.72 L649.2 163.99 L652.3 165.32 L655.4 167.83 L658.5 167.68 L661.6 168.72 L664.7 163.11 L667.8 166.06" fill="none" stroke="#ff7a7a" stroke-width="0.6"/>
<rect x="605.2" y="165.37" width="1.2" height="1.2" fill="#ff7070"/>
<rect x="605.2" y="175" width="1.2" height="1.2" fill="#ff7070"/>
<rect x="608.3" y="160.88" width="1.2" height="1.2" fill="#ff7070"/>
<rect x="608.3" y="168.26" width="1.2" height="1.2" fill="#ff7070"/>
<rect x="611.4" y="163.13" width="1.2" height="1.2" fill="#ff7070"/>
<rect x="611.4" y="170.66" width="1.2" height="1.2" fill="#ff7070"/>
<rect x="614.5" y="156.71" width="1.2" height="1.2" fill="#ff7070"/>
<rect x="614.5" y="176.44" width="1.2" height="1.2" fill="#ff7070"/>
<rect x="617.6" y="165.19" width="1.2" height="1.2" fill="#ff7070"/>
<rect x="617.6" y="170.02" width="1.2" height="1.2" fill="#ff7070"/>
<rect x="620.7" y="151.26" width="1.2" height="1.2" fill="#ff7070"/>
<rect x="620.7" y="165.37" width="1.2" height="1.2" fill="#ff7070"/>
<rect x="623.8" y="162.64" width="1.2" height="1.2" fill="#ff7070"/>
<rect x="623.8" y="181.09" width="1.2" height="1.2" fill="#ff7070"/>
<rect x="626.9" y="164.57" width="1.2" height="1.2" fill="#ff7070"/>
<rect x="626.9" y="170.02" width="1.2" height="1.2" fill="#ff7070"/>
<rect x="630" y="165.37" width="1.2" height="1.2" fill="#ff7070"/>
<rect x="630" y="169.06" width="1.2" height="1.2" fill="#ff7070"/>
<rect x="633.1" y="170.99" width="1.2" height="1.2" fill="#ff7070"/>
<rect x="633.1" y="179.17" width="1.2" height="1.2" fill="#ff7070"/>
<rect x="639.3" y="144.35" width="1.2" height="1.2" fill="#ff7070"/>
<rect x="639.3" y="169.7" width="1.2" height="1.2" fill="#ff7070"/>
<rect x="642.4" y="155.91" width="1.2" height="1.2" fill="#ff7070"/>
<rect x="642.4" y="170.02" width="1.2" height="1.2" fill="#ff7070"/>
<rect x="645.5" y="167.3" width="1.2" height="1.2" fill="#ff7070"/>
<rect x="645.5" y="182.05" width="1.2" height="1.2" fill="#ff7070"/>
<rect x="648.6" y="162.64" width="1.2" height="1.2" fill="#ff7070"/>
<rect x="648.6" y="169.06" width="1.2" height="1.2" fill="#ff7070"/>
<rect x="651.7" y="158.63" width="1.2" height="1.2" fill="#ff7070"/>
<rect x="651.7" y="169.7" width="1.2" height="1.2" fill="#ff7070"/>
<rect x="654.8" y="163.61" width="1.2" height="1.2" fill="#ff7070"/>
<rect x="654.8" y="169.06" width="1.2" height="1.2" fill="#ff7070"/>
<rect x="657.9" y="152.06" width="1.2" height="1.2" fill="#ff7070"/>
<rect x="657.9" y="181.09" width="1.2" height="1.2" fill="#ff7070"/>
<rect x="661" y="163.29" width="1.2" height="1.2" fill="#ff7070"/>
<rect x="661" y="172.43" width="1.2" height="1.2" fill="#ff7070"/>
<rect x="664.1" y="150.45" width="1.2" height="1.2" fill="#ff7070"/>
<rect x="664.1" y="173.39" width="1.2" height="1.2" fill="#ff7070"/>
<rect x="667.2" y="158.15" width="1.2" height="1.2" fill="#ff7070"/>
<rect x="667.2" y="170.02" width="1.2" height="1.2" fill="#ff7070"/>
<circle cx="605.8" cy="170.94" r="1.25" fill="#ff1414"/>
<circle cx="608.9" cy="165.17" r="1.25" fill="#ff1414"/>
<circle cx="612" cy="168.22" r="1.25" fill="#ff1414"/>
<circle cx="615.1" cy="167.74" r="1.25" fill="#ff1414"/>
<circle cx="618.2" cy="170.94" r="1.25" fill="#ff1414"/>
<circle cx="621.3" cy="158.59" r="1.25" fill="#ff1414"/>
<circle cx="624.4" cy="173.19" r="1.25" fill="#ff1414"/>
<circle cx="627.5" cy="168.22" r="1.25" fill="#ff1414"/>
<circle cx="630.6" cy="168.22" r="1.25" fill="#ff1414"/>
<circle cx="633.7" cy="176.88" r="1.25" fill="#ff1414"/>
<circle cx="639.9" cy="149.93" r="1.25" fill="#ff1414"/>
<circle cx="643" cy="162.76" r="1.25" fill="#ff1414"/>
<circle cx="646.1" cy="178.64" r="1.25" fill="#ff1414"/>
<circle cx="649.2" cy="163.73" r="1.25" fill="#ff1414"/>
<circle cx="652.3" cy="165.17" r="1.25" fill="#ff1414"/>
<circle cx="655.4" cy="167.9" r="1.25" fill="#ff1414"/>
<circle cx="658.5" cy="167.74" r="1.25" fill="#ff1414"/>
<circle cx="661.6" cy="168.86" r="1.25" fill="#ff1414"/>
<circle cx="664.7" cy="162.76" r="1.25" fill="#ff1414"/>
<circle cx="667.8" cy="165.97" r="1.25" fill="#ff1414"/>
<path d="M372.7 229.4 H508 M372.7 229.4 V311.3 H508" fill="none" stroke="#b4b4b4" stroke-width="1"/>
<path d="M370.6 229.4 V309 M366.8 309 H370.6 M366.8 295.73 H370.6 M366.8 282.47 H370.6 M366.8 269.2 H370.6 M366.8 255.93 H370.6 M366.8 242.67 H370.6 M366.8 229.4 H370.6" fill="none" stroke="#3a3a3a" stroke-width="1"/>
<text x="363.6" y="310.6" text-anchor="end" font-size="4.4" fill="#333" stroke="#333" stroke-width="0.06">0.00</text>
<text x="363.6" y="297.33" text-anchor="end" font-size="4.4" fill="#333" stroke="#333" stroke-width="0.06">0.05</text>
<text x="363.6" y="284.07" text-anchor="end" font-size="4.4" fill="#333" stroke="#333" stroke-width="0.06">0.10</text>
<text x="363.6" y="270.8" text-anchor="end" font-size="4.4" fill="#333" stroke="#333" stroke-width="0.06">0.15</text>
<text x="363.6" y="257.53" text-anchor="end" font-size="4.4" fill="#333" stroke="#333" stroke-width="0.06">0.20</text>
<text x="363.6" y="244.27" text-anchor="end" font-size="4.4" fill="#333" stroke="#333" stroke-width="0.06">0.25</text>
<text x="363.6" y="231" text-anchor="end" font-size="4.4" fill="#333" stroke="#333" stroke-width="0.06">0.30</text>
<text transform="translate(352.3 269.2) rotate(-90)" text-anchor="middle" font-size="4.9" fill="#2a2a2a" stroke="#2a2a2a" stroke-width="0.06">Frequency</text>
<path d="M375.4 312.4 H507.59 M375.4 312.4 V315.8 M380.91 312.4 V315.8 M386.42 312.4 V315.8 M391.92 312.4 V315.8 M397.43 312.4 V315.8 M402.94 312.4 V315.8 M408.45 312.4 V315.8 M413.96 312.4 V315.8 M419.46 312.4 V315.8 M424.97 312.4 V315.8 M430.48 312.4 V315.8 M435.99 312.4 V315.8 M441.5 312.4 V315.8 M447 312.4 V315.8 M452.51 312.4 V315.8 M458.02 312.4 V315.8 M463.53 312.4 V315.8 M469.04 312.4 V315.8 M474.54 312.4 V315.8 M480.05 312.4 V315.8 M485.56 312.4 V315.8 M491.07 312.4 V315.8 M496.58 312.4 V315.8 M502.08 312.4 V315.8 M507.59 312.4 V315.8" fill="none" stroke="#3a3a3a" stroke-width="0.9"/>
<text transform="translate(376.9 318.4) rotate(-90)" text-anchor="end" font-size="4.2" fill="#222" stroke="#222" stroke-width="0.12">1</text>
<text transform="translate(382.41 318.4) rotate(-90)" text-anchor="end" font-size="4.2" fill="#222" stroke="#222" stroke-width="0.12">2</text>
<text transform="translate(387.92 318.4) rotate(-90)" text-anchor="end" font-size="4.2" fill="#222" stroke="#222" stroke-width="0.12">3</text>
<text transform="translate(393.42 318.4) rotate(-90)" text-anchor="end" font-size="4.2" fill="#222" stroke="#222" stroke-width="0.12">4</text>
<text transform="translate(398.93 318.4) rotate(-90)" text-anchor="end" font-size="4.2" fill="#222" stroke="#222" stroke-width="0.12">5</text>
<text transform="translate(404.44 318.4) rotate(-90)" text-anchor="end" font-size="4.2" fill="#222" stroke="#222" stroke-width="0.12">6</text>
<text transform="translate(409.95 318.4) rotate(-90)" text-anchor="end" font-size="4.2" fill="#222" stroke="#222" stroke-width="0.12">7</text>
<text transform="translate(415.46 318.4) rotate(-90)" text-anchor="end" font-size="4.2" fill="#222" stroke="#222" stroke-width="0.12">8</text>
<text transform="translate(420.96 318.4) rotate(-90)" text-anchor="end" font-size="4.2" fill="#222" stroke="#222" stroke-width="0.12">9</text>
<text transform="translate(426.47 318.4) rotate(-90)" text-anchor="end" font-size="4.2" fill="#222" stroke="#222" stroke-width="0.12">10</text>
<text transform="translate(431.98 318.4) rotate(-90)" text-anchor="end" font-size="4.2" fill="#222" stroke="#222" stroke-width="0.12">11</text>
<text transform="translate(437.49 318.4) rotate(-90)" text-anchor="end" font-size="4.2" fill="#222" stroke="#222" stroke-width="0.12">12</text>
<text transform="translate(443 318.4) rotate(-90)" text-anchor="end" font-size="4.2" fill="#222" stroke="#222" stroke-width="0.12">13</text>
<text transform="translate(448.5 318.4) rotate(-90)" text-anchor="end" font-size="4.2" fill="#222" stroke="#222" stroke-width="0.12">14</text>
<text transform="translate(454.01 318.4) rotate(-90)" text-anchor="end" font-size="4.2" fill="#222" stroke="#222" stroke-width="0.12">15</text>
<text transform="translate(459.52 318.4) rotate(-90)" text-anchor="end" font-size="4.2" fill="#222" stroke="#222" stroke-width="0.12">16</text>
<text transform="translate(465.03 318.4) rotate(-90)" text-anchor="end" font-size="4.2" fill="#222" stroke="#222" stroke-width="0.12">17</text>
<text transform="translate(470.54 318.4) rotate(-90)" text-anchor="end" font-size="4.2" fill="#222" stroke="#222" stroke-width="0.12">18</text>
<text transform="translate(476.04 318.4) rotate(-90)" text-anchor="end" font-size="4.2" fill="#222" stroke="#222" stroke-width="0.12">19</text>
<text transform="translate(481.55 318.4) rotate(-90)" text-anchor="end" font-size="4.2" fill="#222" stroke="#222" stroke-width="0.12">20</text>
<text transform="translate(487.06 318.4) rotate(-90)" text-anchor="end" font-size="4.2" fill="#222" stroke="#222" stroke-width="0.12">21</text>
<text transform="translate(492.57 318.4) rotate(-90)" text-anchor="end" font-size="4.2" fill="#222" stroke="#222" stroke-width="0.12">22</text>
<text transform="translate(498.08 318.4) rotate(-90)" text-anchor="end" font-size="4.2" fill="#222" stroke="#222" stroke-width="0.12">23</text>
<text transform="translate(503.58 318.4) rotate(-90)" text-anchor="end" font-size="4.2" fill="#222" stroke="#222" stroke-width="0.12">24</text>
<text transform="translate(509.09 318.4) rotate(-90)" text-anchor="end" font-size="4.2" fill="#222" stroke="#222" stroke-width="0.12">25</text>
<path d="M375.4 308.73 L380.91 308.73 L386.42 306.88 L391.92 308.73 L397.43 308.73 L402.94 307.14 L408.45 308.73 L413.96 308.73 L419.46 308.73 L424.97 307.41 L430.48 308.73 L435.99 308.73 L441.5 308.73 L447 308.73 L452.51 308.73 L458.02 308.73 L463.53 308.73 L469.04 308.73 L474.54 308.73 L480.05 308.73 L485.56 308.73 L491.07 308.73 L496.58 308.73 L502.08 308.73 L507.59 308.73" fill="none" stroke="#c4c4c4" stroke-width="0.7" stroke-linejoin="round" opacity="1"/>
<path d="M375.4 308.6 L380.91 308.6 L386.42 308.6 L391.92 308.6 L397.43 308.6 L402.94 308.6 L408.45 308.6 L413.96 308.6 L419.46 308.6 L424.97 308.6 L430.48 308.6 L435.99 308.6 L441.5 308.6 L447 308.6 L452.51 308.6 L458.02 308.6 L463.53 308.6 L469.04 308.6 L474.54 308.6 L480.05 308.6 L485.56 308.6 L491.07 308.6 L496.58 308.6 L502.08 308.6 L507.59 308.6" fill="none" stroke="#a040e0" stroke-width="1.1" stroke-linejoin="round" opacity="1"/>
<path d="M375.4 301.65 L380.91 301.65 L386.42 302.26 L391.92 304.33 L397.43 307.01 L402.94 307.14 L408.45 308.47 L413.96 308.73 L419.46 309 L424.97 309 L430.48 309 L435.99 309 L441.5 309 L447 309 L452.51 309 L458.02 309 L463.53 309 L469.04 309 L474.54 309 L480.05 309 L485.56 309 L491.07 309 L496.58 309 L502.08 309 L507.59 309" fill="none" stroke="#ffa850" stroke-width="0.8" stroke-linejoin="round" opacity="1"/>
<path d="M375.4 309 L380.91 309 L386.42 309 L391.92 309 L397.43 309 L402.94 309 L408.45 309 L413.96 309 L419.46 309 L424.97 309 L430.48 309 L435.99 309 L441.5 306.35 L447 309 L452.51 309 L458.02 306.35 L463.53 309 L469.04 309 L474.54 309 L480.05 305.82 L485.56 304.22 L491.07 305.82 L496.58 309 L502.08 306.35 L507.59 309" fill="none" stroke="#1a1aff" stroke-width="1.25" stroke-linejoin="round" opacity="1"/>
<path d="M375.4 233.38 L380.91 288.3 L386.42 274.51 L391.92 294.14 L397.43 302.9 L402.94 297.06 L408.45 301.04 L413.96 305.71 L419.46 305.82 L424.97 309 L430.48 300.24 L435.99 303.32 L441.5 309 L447 297.86 L452.51 305.82 L458.02 305.29 L463.53 303.16 L469.04 309 L474.54 309 L480.05 309 L485.56 306.35 L491.07 309 L496.58 309 L502.08 309 L507.59 309" fill="none" stroke="#ff1a1a" stroke-width="1.25" stroke-linejoin="round" opacity="1"/>
<path d="M531.9 229.4 H667.4 V311.3 H531.9" fill="none" stroke="#b4b4b4" stroke-width="1"/>
<path d="M669.7 229.4 V309 M669.7 309 H673.5 M669.7 295.73 H673.5 M669.7 282.47 H673.5 M669.7 269.2 H673.5 M669.7 255.93 H673.5 M669.7 242.67 H673.5 M669.7 229.4 H673.5" fill="none" stroke="#3a3a3a" stroke-width="1"/>
<text x="676.4" y="310.6" font-size="4.4" fill="#333" stroke="#333" stroke-width="0.06">0.00</text>
<text x="676.4" y="297.33" font-size="4.4" fill="#333" stroke="#333" stroke-width="0.06">0.05</text>
<text x="676.4" y="284.07" font-size="4.4" fill="#333" stroke="#333" stroke-width="0.06">0.10</text>
<text x="676.4" y="270.8" font-size="4.4" fill="#333" stroke="#333" stroke-width="0.06">0.15</text>
<text x="676.4" y="257.53" font-size="4.4" fill="#333" stroke="#333" stroke-width="0.06">0.20</text>
<text x="676.4" y="244.27" font-size="4.4" fill="#333" stroke="#333" stroke-width="0.06">0.25</text>
<text x="676.4" y="231" font-size="4.4" fill="#333" stroke="#333" stroke-width="0.06">0.30</text>
<path d="M532.2 312.4 H664.61 M532.2 312.4 V315.8 M537.72 312.4 V315.8 M543.23 312.4 V315.8 M548.75 312.4 V315.8 M554.27 312.4 V315.8 M559.79 312.4 V315.8 M565.3 312.4 V315.8 M570.82 312.4 V315.8 M576.34 312.4 V315.8 M581.85 312.4 V315.8 M587.37 312.4 V315.8 M592.89 312.4 V315.8 M598.4 312.4 V315.8 M603.92 312.4 V315.8 M609.44 312.4 V315.8 M614.96 312.4 V315.8 M620.47 312.4 V315.8 M625.99 312.4 V315.8 M631.51 312.4 V315.8 M637.02 312.4 V315.8 M642.54 312.4 V315.8 M648.06 312.4 V315.8 M653.57 312.4 V315.8 M659.09 312.4 V315.8 M664.61 312.4 V315.8" fill="none" stroke="#3a3a3a" stroke-width="0.9"/>
<text transform="translate(533.7 318.4) rotate(-90)" text-anchor="end" font-size="4.2" fill="#222" stroke="#222" stroke-width="0.12">-25</text>
<text transform="translate(539.22 318.4) rotate(-90)" text-anchor="end" font-size="4.2" fill="#222" stroke="#222" stroke-width="0.12">-24</text>
<text transform="translate(544.73 318.4) rotate(-90)" text-anchor="end" font-size="4.2" fill="#222" stroke="#222" stroke-width="0.12">-23</text>
<text transform="translate(550.25 318.4) rotate(-90)" text-anchor="end" font-size="4.2" fill="#222" stroke="#222" stroke-width="0.12">-22</text>
<text transform="translate(555.77 318.4) rotate(-90)" text-anchor="end" font-size="4.2" fill="#222" stroke="#222" stroke-width="0.12">-21</text>
<text transform="translate(561.29 318.4) rotate(-90)" text-anchor="end" font-size="4.2" fill="#222" stroke="#222" stroke-width="0.12">-20</text>
<text transform="translate(566.8 318.4) rotate(-90)" text-anchor="end" font-size="4.2" fill="#222" stroke="#222" stroke-width="0.12">-19</text>
<text transform="translate(572.32 318.4) rotate(-90)" text-anchor="end" font-size="4.2" fill="#222" stroke="#222" stroke-width="0.12">-18</text>
<text transform="translate(577.84 318.4) rotate(-90)" text-anchor="end" font-size="4.2" fill="#222" stroke="#222" stroke-width="0.12">-17</text>
<text transform="translate(583.35 318.4) rotate(-90)" text-anchor="end" font-size="4.2" fill="#222" stroke="#222" stroke-width="0.12">-16</text>
<text transform="translate(588.87 318.4) rotate(-90)" text-anchor="end" font-size="4.2" fill="#222" stroke="#222" stroke-width="0.12">-15</text>
<text transform="translate(594.39 318.4) rotate(-90)" text-anchor="end" font-size="4.2" fill="#222" stroke="#222" stroke-width="0.12">-14</text>
<text transform="translate(599.9 318.4) rotate(-90)" text-anchor="end" font-size="4.2" fill="#222" stroke="#222" stroke-width="0.12">-13</text>
<text transform="translate(605.42 318.4) rotate(-90)" text-anchor="end" font-size="4.2" fill="#222" stroke="#222" stroke-width="0.12">-12</text>
<text transform="translate(610.94 318.4) rotate(-90)" text-anchor="end" font-size="4.2" fill="#222" stroke="#222" stroke-width="0.12">-11</text>
<text transform="translate(616.46 318.4) rotate(-90)" text-anchor="end" font-size="4.2" fill="#222" stroke="#222" stroke-width="0.12">-10</text>
<text transform="translate(621.97 318.4) rotate(-90)" text-anchor="end" font-size="4.2" fill="#222" stroke="#222" stroke-width="0.12">-9</text>
<text transform="translate(627.49 318.4) rotate(-90)" text-anchor="end" font-size="4.2" fill="#222" stroke="#222" stroke-width="0.12">-8</text>
<text transform="translate(633.01 318.4) rotate(-90)" text-anchor="end" font-size="4.2" fill="#222" stroke="#222" stroke-width="0.12">-7</text>
<text transform="translate(638.52 318.4) rotate(-90)" text-anchor="end" font-size="4.2" fill="#222" stroke="#222" stroke-width="0.12">-6</text>
<text transform="translate(644.04 318.4) rotate(-90)" text-anchor="end" font-size="4.2" fill="#222" stroke="#222" stroke-width="0.12">-5</text>
<text transform="translate(649.56 318.4) rotate(-90)" text-anchor="end" font-size="4.2" fill="#222" stroke="#222" stroke-width="0.12">-4</text>
<text transform="translate(655.07 318.4) rotate(-90)" text-anchor="end" font-size="4.2" fill="#222" stroke="#222" stroke-width="0.12">-3</text>
<text transform="translate(660.59 318.4) rotate(-90)" text-anchor="end" font-size="4.2" fill="#222" stroke="#222" stroke-width="0.12">-2</text>
<text transform="translate(666.11 318.4) rotate(-90)" text-anchor="end" font-size="4.2" fill="#222" stroke="#222" stroke-width="0.12">-1</text>
<path d="M532.2 308.73 L537.72 308.73 L543.23 306.35 L548.75 308.73 L554.27 308.73 L559.79 308.73 L565.3 308.73 L570.82 308.73 L576.34 308.73 L581.85 308.73 L587.37 308.73 L592.89 308.73 L598.4 308.73 L603.92 308.73 L609.44 308.73 L614.96 308.73 L620.47 308.73 L625.99 308.73 L631.51 308.73 L637.02 308.73 L642.54 308.73 L648.06 308.73 L653.57 306.88 L659.09 308.73 L664.61 308.73" fill="none" stroke="#c4c4c4" stroke-width="0.7" stroke-linejoin="round" opacity="1"/>
<path d="M532.2 308.6 L537.72 308.6 L543.23 308.6 L548.75 308.2 L554.27 307.41 L559.79 307.41 L565.3 308.6 L570.82 308.6 L576.34 308.6 L581.85 307.67 L587.37 308.6 L592.89 308.6 L598.4 308.6 L603.92 308.6 L609.44 308.6 L614.96 308.6 L620.47 308.6 L625.99 308.6 L631.51 308.6 L637.02 308.6 L642.54 308.6 L648.06 308.6 L653.57 308.6 L659.09 308.6 L664.61 308.6" fill="none" stroke="#a040e0" stroke-width="1.1" stroke-linejoin="round" opacity="1"/>
<path d="M532.2 308.2 L537.72 308.2 L543.23 308.2 L548.75 308.2 L554.27 308.2 L559.79 308.2 L565.3 308.2 L570.82 308.2 L576.34 308.2 L581.85 308.2 L587.37 308.2 L592.89 308.2 L598.4 308.2 L603.92 308.2 L609.44 308.2 L614.96 308.2 L620.47 308.2 L625.99 308.2 L631.51 308.2 L637.02 307.67 L642.54 305.02 L648.06 301.84 L653.57 300.51 L659.09 299.71 L664.61 299.71" fill="none" stroke="#ffa850" stroke-width="0.8" stroke-linejoin="round" opacity="1"/>
<path d="M532.2 309 L537.72 309 L543.23 309 L548.75 308.73 L554.27 306.4 L559.79 305.82 L565.3 309 L570.82 309 L576.34 306.21 L581.85 305.29 L587.37 303.43 L592.89 295.07 L598.4 309 L603.92 306.35 L609.44 303.69 L614.96 309 L620.47 306.35 L625.99 305.82 L631.51 301.04 L637.02 296.26 L642.54 303.16 L648.06 293.88 L653.57 274.77 L659.09 288.04 L664.61 233.11" fill="none" stroke="#1a1aff" stroke-width="1.25" stroke-linejoin="round" opacity="1"/>
<path d="M532.2 309 L537.72 306.21 L543.23 309 L548.75 305.82 L554.27 303.96 L559.79 306.21 L565.3 309 L570.82 309 L576.34 309 L581.85 306.21 L587.37 309 L592.89 309 L598.4 306.21 L603.92 309 L609.44 309 L614.96 309 L620.47 309 L625.99 309 L631.51 309 L637.02 309 L642.54 309 L648.06 309 L653.57 309 L659.09 309 L664.61 309" fill="none" stroke="#ff1a1a" stroke-width="1.25" stroke-linejoin="round" opacity="1"/>
</svg></body></html>
